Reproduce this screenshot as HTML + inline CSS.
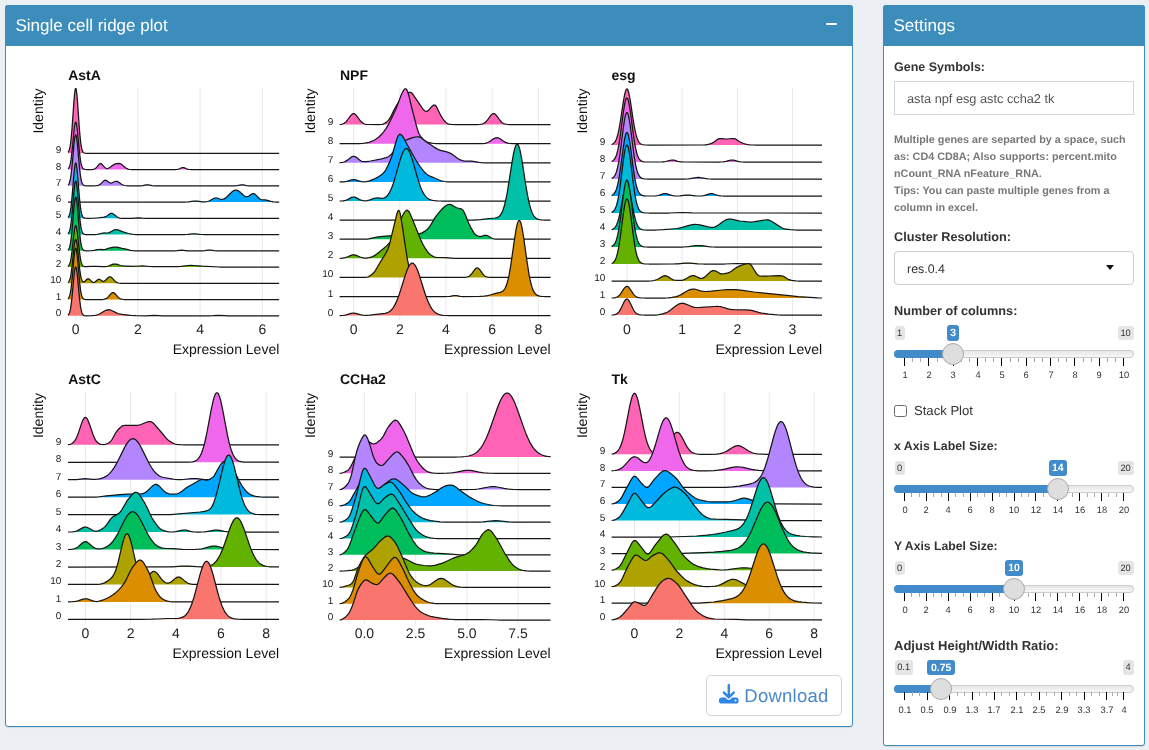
<!DOCTYPE html>
<html lang="en">
<head>
<meta charset="utf-8">
<title>Single cell ridge plot</title>
<style>
html,body{margin:0;padding:0;}
body{width:1149px;height:750px;overflow:hidden;background:#ecf0f5;position:relative;font-family:"Liberation Sans",sans-serif;color:#333;text-rendering:geometricPrecision;}
.abs{position:absolute;}
.box{position:absolute;background:#fff;border:1px solid #3c8dbc;border-radius:3px;box-shadow:0 1px 1px rgba(0,0,0,.1);box-sizing:border-box;}
.hdr{position:absolute;background:#3c8dbc;border-radius:3px 3px 0 0;}
.htitle{position:absolute;color:#fff;font-size:17px;line-height:20px;white-space:nowrap;}
.lbl{position:absolute;font-weight:bold;font-size:12.5px;line-height:16px;color:#333;white-space:nowrap;}
.inp{position:absolute;box-sizing:border-box;background:#fff;border:1px solid #d2d6de;}
.inptxt{position:absolute;font-size:12.75px;line-height:16px;color:#555;white-space:nowrap;}
.help{position:absolute;font-weight:bold;font-size:10.8px;line-height:17.14px;color:#777;white-space:nowrap;}
svg{position:absolute;left:0;top:0;}
svg text{font-family:"Liberation Sans",sans-serif;fill:#111;text-rendering:geometricPrecision;}
.gl{stroke:#e9e9e9;stroke-width:1;}
.rl{fill:none;stroke:#151515;stroke-width:1.25;stroke-linejoin:round;}
.yt{font-size:10px;text-anchor:end;fill:#1a1a1a;}
.xt{font-size:14px;text-anchor:middle;fill:#222;}
.pt{font-size:14px;font-weight:bold;}
.xl{font-size:14px;text-anchor:end;}
.yl{font-size:14px;text-anchor:middle;}
.irs-min,.irs-max,.irs-single{position:absolute;box-sizing:border-box;text-align:center;border-radius:3px;white-space:nowrap;font-family:"Liberation Sans",sans-serif;}
.irs-min,.irs-max{background:#e5e5e5;color:#333;font-size:9.3px;line-height:15.2px;height:14.4px;}
.irs-single{background:#428bca;color:#fff;font-weight:bold;font-size:10.5px;line-height:16.4px;height:15.6px;}
.irs-line{position:absolute;left:894px;width:239.6px;height:8px;box-sizing:border-box;border:1px solid #ccc;border-radius:8px;background:linear-gradient(to bottom,#dedede -50%,#fff 150%);}
.irs-bar{position:absolute;left:894px;height:8px;box-sizing:border-box;background:#428bca;border-radius:8px 0 0 8px;}
.irs-handle{position:absolute;width:22px;height:22px;box-sizing:border-box;border:1px solid #ababab;background:#dedede;border-radius:22px;}
.tk{position:absolute;width:1px;height:8px;background:#000;}
.tks{position:absolute;width:1px;height:4px;background:#aaa;}
.gt{position:absolute;width:30px;text-align:center;font-size:9.3px;line-height:10px;color:#333;white-space:nowrap;}
</style>
</head>
<body>
<!-- left box -->
<div class="box" style="left:5px;top:5px;width:848px;height:722px;"></div>
<div class="hdr" style="left:5px;top:5px;width:848px;height:40.5px;"></div>
<div class="htitle" style="left:15.5px;top:15.5px;">Single cell ridge plot</div>
<div class="abs" style="left:826px;top:23.4px;width:10.8px;height:2px;background:#fff;border-radius:1px;"></div>

<svg width="1149" height="750" viewBox="0 0 1149 750">
<line x1="75.7" y1="88.0" x2="75.7" y2="320.0" class="gl"/>
<line x1="137.9" y1="88.0" x2="137.9" y2="320.0" class="gl"/>
<line x1="200.1" y1="88.0" x2="200.1" y2="320.0" class="gl"/>
<line x1="262.3" y1="88.0" x2="262.3" y2="320.0" class="gl"/>
<path d="M68 152.4 68.5 151.7 69 150.7 69.5 149.1 70 146.9 70.5 143.9 71 139.9 72 128.9 74 100.4 74.5 94.7 75 90.5 75.5 88.5 76 88.7 76.5 91.2 77 95.7 77.5 101.7 79.5 130.2 80.5 140.8 81 144.6 81.5 147.4 82 149.5 82.5 150.9 83 151.9 83.5 152.5 84 152.8 84.5 153 86 153.3 88.5 153.3 279.2 153.3 L279.2 153.3 L68 153.3 Z" fill="#FF63B6"/>
<path d="M68 152.4 68.5 151.7 69 150.7 69.5 149.1 70 146.9 70.5 143.9 71 139.9 72 128.9 74 100.4 74.5 94.7 75 90.5 75.5 88.5 76 88.7 76.5 91.2 77 95.7 77.5 101.7 79.5 130.2 80.5 140.8 81 144.6 81.5 147.4 82 149.5 82.5 150.9 83 151.9 83.5 152.5 84 152.8 84.5 153 86 153.3 88.5 153.3 279.2 153.3" class="rl"/>
<path d="M68 168.9 68.5 168.4 69 167.6 69.5 166.5 70 164.9 70.5 162.7 71 159.8 72 151.7 74 130.9 74.5 126.7 75 123.7 75.5 122.2 76 122.4 76.5 124.2 77 127.5 77.5 131.9 79.5 152.6 80.5 160.4 81 163.2 81.5 165.3 82 166.8 82.5 167.8 83 168.5 83.5 168.9 84.5 169.4 86 169.5 91 169.5 92.5 169.5 94 169.2 95 168.7 96 168 97 166.9 99 164.4 100 163.7 100.5 163.5 101 163.6 101.5 163.9 102 164.3 104.5 167.2 105.5 168 106.5 168.5 107.5 168.5 108.5 168.2 109.5 167.7 113 165.1 114.5 164.2 115.5 163.8 116.5 163.6 118.5 163.4 120 163.6 121.5 164.3 122.5 165.1 125.5 167.7 127 168.7 128 169.1 129 169.3 131 169.5 176 169.5 177.5 169.4 178.5 169.2 179.5 168.8 181.5 167.9 182.5 167.6 183 167.6 183.5 167.6 184.5 167.9 186.5 168.8 187.5 169.2 189 169.4 190.5 169.5 279.2 169.6 L279.2 169.6 L68 169.6 Z" fill="#EF67EB"/>
<path d="M68 168.9 68.5 168.4 69 167.6 69.5 166.5 70 164.9 70.5 162.7 71 159.8 72 151.7 74 130.9 74.5 126.7 75 123.7 75.5 122.2 76 122.4 76.5 124.2 77 127.5 77.5 131.9 79.5 152.6 80.5 160.4 81 163.2 81.5 165.3 82 166.8 82.5 167.8 83 168.5 83.5 168.9 84.5 169.4 86 169.5 91 169.5 92.5 169.5 94 169.2 95 168.7 96 168 97 166.9 99 164.4 100 163.7 100.5 163.5 101 163.6 101.5 163.9 102 164.3 104.5 167.2 105.5 168 106.5 168.5 107.5 168.5 108.5 168.2 109.5 167.7 113 165.1 114.5 164.2 115.5 163.8 116.5 163.6 118.5 163.4 120 163.6 121.5 164.3 122.5 165.1 125.5 167.7 127 168.7 128 169.1 129 169.3 131 169.5 176 169.5 177.5 169.4 178.5 169.2 179.5 168.8 181.5 167.9 182.5 167.6 183 167.6 183.5 167.6 184.5 167.9 186.5 168.8 187.5 169.2 189 169.4 190.5 169.5 279.2 169.6" class="rl"/>
<path d="M68 185.1 68.5 184.6 69 183.7 69.5 182.5 70 180.8 70.5 178.4 71 175.3 72 166.7 74 144.3 74.5 139.8 75 136.6 75.5 134.9 76 135.1 76.5 137.1 77 140.6 77.5 145.4 79.5 167.7 80.5 176 81 179 81.5 181.2 82 182.8 82.5 183.9 83 184.7 83.5 185.1 84.5 185.6 86.5 185.8 94 185.8 96.5 185.7 98 185.4 99.5 184.8 100.5 184.1 103 181.6 104 180.7 105 180.3 105.5 180.2 106.5 180.6 109.5 182.7 110.5 183 111 183.1 112 182.8 115 181.5 116 181.3 117 181.4 118.5 182.1 121.5 184.2 123 185 125 185.5 127.5 185.8 141 185.8 143 185.6 146 184.9 147 184.8 148.5 184.9 152 185.6 155 185.8 234 185.8 237.5 185.6 241 184.9 242 184.8 243.5 184.9 246.5 185.6 249 185.8 279.2 185.8 L279.2 185.8 L68 185.8 Z" fill="#B385FF"/>
<path d="M68 185.1 68.5 184.6 69 183.7 69.5 182.5 70 180.8 70.5 178.4 71 175.3 72 166.7 74 144.3 74.5 139.8 75 136.6 75.5 134.9 76 135.1 76.5 137.1 77 140.6 77.5 145.4 79.5 167.7 80.5 176 81 179 81.5 181.2 82 182.8 82.5 183.9 83 184.7 83.5 185.1 84.5 185.6 86.5 185.8 94 185.8 96.5 185.7 98 185.4 99.5 184.8 100.5 184.1 103 181.6 104 180.7 105 180.3 105.5 180.2 106.5 180.6 109.5 182.7 110.5 183 111 183.1 112 182.8 115 181.5 116 181.3 117 181.4 118.5 182.1 121.5 184.2 123 185 125 185.5 127.5 185.8 141 185.8 143 185.6 146 184.9 147 184.8 148.5 184.9 152 185.6 155 185.8 234 185.8 237.5 185.6 241 184.9 242 184.8 243.5 184.9 246.5 185.6 249 185.8 279.2 185.8" class="rl"/>
<path d="M68 202.1 184 202 188.5 201.9 193.5 201.2 195.5 201.1 197.5 201.2 202 201.8 204 201.9 205.5 201.9 207.5 201.5 209 201 210.5 200.3 213.5 198.5 215 198 216 197.9 217 198 220 199 221.5 199.3 223 199.2 224 198.9 225 198.4 226.5 197.2 231 192.7 232.5 191.4 233.5 190.7 234.5 190.3 235.5 190.1 236 190.1 237 190.2 238.5 190.9 240 192 244 195.7 245 196.3 246 196.7 247 196.7 248 196.5 249 196 251 194.5 252 193.9 253 193.6 253.5 193.6 254 193.7 255 194.2 256 195.1 259 198.3 260 199 261 199.5 262.5 199.9 265 199.9 266.5 200.1 271 201.4 273 201.8 275.5 202 279.2 202 L279.2 202.1 L68 202.1 Z" fill="#00A6FF"/>
<path d="M68 202.1 184 202 188.5 201.9 193.5 201.2 195.5 201.1 197.5 201.2 202 201.8 204 201.9 205.5 201.9 207.5 201.5 209 201 210.5 200.3 213.5 198.5 215 198 216 197.9 217 198 220 199 221.5 199.3 223 199.2 224 198.9 225 198.4 226.5 197.2 231 192.7 232.5 191.4 233.5 190.7 234.5 190.3 235.5 190.1 236 190.1 237 190.2 238.5 190.9 240 192 244 195.7 245 196.3 246 196.7 247 196.7 248 196.5 249 196 251 194.5 252 193.9 253 193.6 253.5 193.6 254 193.7 255 194.2 256 195.1 259 198.3 260 199 261 199.5 262.5 199.9 265 199.9 266.5 200.1 271 201.4 273 201.8 275.5 202 279.2 202" class="rl"/>
<path d="M68 217.5 68.5 216.9 69 216.1 69.5 214.8 70 212.9 70.5 210.3 71 206.9 72 197.5 74 173.2 74.5 168.2 75 164.7 75.5 163 76 163.2 76.5 165.3 77 169.1 77.5 174.3 79.5 198.5 80.5 207.6 81 210.9 81.5 213.3 82 215.1 82.5 216.3 83 217.1 83.5 217.6 84.5 218.1 85.5 218.2 87 218.3 94.5 218.2 97 218 104 217.1 105.5 216.7 106.5 216.2 110 213.7 111 213.3 111.5 213.3 112 213.3 113 213.8 114 214.5 116.5 216.6 118 217.5 119 217.9 120 218.1 122.5 218.3 132 218.3 138 217.8 142.5 218.2 146 218.3 279.2 218.3 L279.2 218.3 L68 218.3 Z" fill="#00BADE"/>
<path d="M68 217.5 68.5 216.9 69 216.1 69.5 214.8 70 212.9 70.5 210.3 71 206.9 72 197.5 74 173.2 74.5 168.2 75 164.7 75.5 163 76 163.2 76.5 165.3 77 169.1 77.5 174.3 79.5 198.5 80.5 207.6 81 210.9 81.5 213.3 82 215.1 82.5 216.3 83 217.1 83.5 217.6 84.5 218.1 85.5 218.2 87 218.3 94.5 218.2 97 218 104 217.1 105.5 216.7 106.5 216.2 110 213.7 111 213.3 111.5 213.3 112 213.3 113 213.8 114 214.5 116.5 216.6 118 217.5 119 217.9 120 218.1 122.5 218.3 132 218.3 138 217.8 142.5 218.2 146 218.3 279.2 218.3" class="rl"/>
<path d="M68 233.8 68.5 233.2 69 232.4 69.5 231.1 70 229.3 70.5 226.8 71 223.5 72 214.4 74 191 74.5 186.2 75 182.8 75.5 181.1 76 181.3 76.5 183.3 77 187.1 77.5 192 79.5 215.5 80.5 224.2 81 227.4 81.5 229.7 82 231.4 82.5 232.6 83 233.4 83.5 233.9 84.5 234.3 85.5 234.5 87 234.5 96 234.5 98.5 234.2 103 233 104 232.9 107 233 108 232.9 109 232.6 110 232.2 113 230.5 114.5 229.8 115.5 229.6 116.5 229.5 118 229.8 123 231.9 128.5 233.5 131.5 234.2 135 234.5 185 234.5 188 234.4 192.5 233.9 194 233.9 195.5 233.9 199.5 234.4 203 234.5 279.2 234.6 L279.2 234.6 L68 234.6 Z" fill="#00C1A7"/>
<path d="M68 233.8 68.5 233.2 69 232.4 69.5 231.1 70 229.3 70.5 226.8 71 223.5 72 214.4 74 191 74.5 186.2 75 182.8 75.5 181.1 76 181.3 76.5 183.3 77 187.1 77.5 192 79.5 215.5 80.5 224.2 81 227.4 81.5 229.7 82 231.4 82.5 232.6 83 233.4 83.5 233.9 84.5 234.3 85.5 234.5 87 234.5 96 234.5 98.5 234.2 103 233 104 232.9 107 233 108 232.9 109 232.6 110 232.2 113 230.5 114.5 229.8 115.5 229.6 116.5 229.5 118 229.8 123 231.9 128.5 233.5 131.5 234.2 135 234.5 185 234.5 188 234.4 192.5 233.9 194 233.9 195.5 233.9 199.5 234.4 203 234.5 279.2 234.6" class="rl"/>
<path d="M68 250 68.5 249.5 69 248.6 69.5 247.4 70 245.5 70.5 243 71 239.7 72 230.6 74 207 74.5 202.3 75 198.9 75.5 197.2 76 197.3 76.5 199.4 77 203.1 77.5 208.1 79.5 231.7 80.5 240.5 81 243.6 81.5 246 82 247.7 82.5 248.8 83 249.6 83.5 250.1 84.5 250.6 86.5 250.8 91.5 250.7 94 250.4 97.5 249.6 98.5 249.5 100 249.4 102.5 249.6 104 249.6 105.5 249.3 109 248.2 111.5 247.6 114 247.2 115.5 247.1 116.5 247.1 118 247.4 122 248.4 126 249.2 130.5 250.3 133 250.6 135.5 250.8 174.5 250.8 177 250.7 180 250.3 181.5 250.2 185.5 250.6 187.5 250.8 202 250.8 205 250.7 208 250.2 209.5 250.1 210.5 250.2 214 250.7 217 250.8 279.2 250.8 L279.2 250.8 L68 250.8 Z" fill="#00BD5C"/>
<path d="M68 250 68.5 249.5 69 248.6 69.5 247.4 70 245.5 70.5 243 71 239.7 72 230.6 74 207 74.5 202.3 75 198.9 75.5 197.2 76 197.3 76.5 199.4 77 203.1 77.5 208.1 79.5 231.7 80.5 240.5 81 243.6 81.5 246 82 247.7 82.5 248.8 83 249.6 83.5 250.1 84.5 250.6 86.5 250.8 91.5 250.7 94 250.4 97.5 249.6 98.5 249.5 100 249.4 102.5 249.6 104 249.6 105.5 249.3 109 248.2 111.5 247.6 114 247.2 115.5 247.1 116.5 247.1 118 247.4 122 248.4 126 249.2 130.5 250.3 133 250.6 135.5 250.8 174.5 250.8 177 250.7 180 250.3 181.5 250.2 185.5 250.6 187.5 250.8 202 250.8 205 250.7 208 250.2 209.5 250.1 210.5 250.2 214 250.7 217 250.8 279.2 250.8" class="rl"/>
<path d="M68 266.5 68.5 266 69 265.4 69.5 264.4 70 263 70.5 261.1 71 258.5 72 251.5 74 233.3 74.5 229.6 75 227 75.5 225.7 76 225.8 76.5 227.4 77 230.3 77.5 234.1 79.5 252.2 80.5 259 81 261.4 81.5 263.2 82 264.5 82.5 265.4 83 266 83.5 266.3 84.5 266.7 86 266.7 91.5 266.3 94.5 266.3 97 266.3 103 266.7 105.5 266.6 107 266.4 108.5 266 113 264.2 114 264 115 264 116.5 264.2 120.5 265.5 123 265.8 132.5 266.3 139.5 266 142 265.9 150 266.5 153.5 266.7 165 266.6 177 266.6 181 266.3 188 265.5 191 265.4 194 265.5 202 266.2 219.5 267 279.2 267.1 L279.2 267.1 L68 267.1 Z" fill="#64B200"/>
<path d="M68 266.5 68.5 266 69 265.4 69.5 264.4 70 263 70.5 261.1 71 258.5 72 251.5 74 233.3 74.5 229.6 75 227 75.5 225.7 76 225.8 76.5 227.4 77 230.3 77.5 234.1 79.5 252.2 80.5 259 81 261.4 81.5 263.2 82 264.5 82.5 265.4 83 266 83.5 266.3 84.5 266.7 86 266.7 91.5 266.3 94.5 266.3 97 266.3 103 266.7 105.5 266.6 107 266.4 108.5 266 113 264.2 114 264 115 264 116.5 264.2 120.5 265.5 123 265.8 132.5 266.3 139.5 266 142 265.9 150 266.5 153.5 266.7 165 266.6 177 266.6 181 266.3 188 265.5 191 265.4 194 265.5 202 266.2 219.5 267 279.2 267.1" class="rl"/>
<path d="M68 282.7 68.5 282.2 69 281.5 69.5 280.5 70 279 70.5 276.9 71 274.2 72 266.8 74 247.5 74.5 243.6 75 240.8 75.5 239.4 76 239.6 76.5 241.3 77 244.3 77.5 248.4 79.5 267.6 80.5 274.8 81 277.3 81.5 279.2 82 280.5 82.5 281.3 83 281.8 83.5 281.9 84 281.9 84.5 281.6 87 279.2 87.5 278.9 88 278.8 88.5 278.8 89 279.1 89.5 279.4 92 281.9 93 282.4 93.5 282.5 94 282.5 95 282.1 98 279.6 98.5 279.4 99 279.3 99.5 279.3 100 279.5 102.5 281.2 103 281.3 103.5 281.4 104 281.3 104.5 281.1 105.5 280.3 107.5 278.2 108.5 277.3 109.5 276.8 110 276.8 110.5 276.9 111.5 277.5 112.5 278.4 115 281.2 116.5 282.3 117.5 282.7 118.5 283 121 283.3 279.2 283.3 L279.2 283.3 L68 283.3 Z" fill="#AEA200"/>
<path d="M68 282.7 68.5 282.2 69 281.5 69.5 280.5 70 279 70.5 276.9 71 274.2 72 266.8 74 247.5 74.5 243.6 75 240.8 75.5 239.4 76 239.6 76.5 241.3 77 244.3 77.5 248.4 79.5 267.6 80.5 274.8 81 277.3 81.5 279.2 82 280.5 82.5 281.3 83 281.8 83.5 281.9 84 281.9 84.5 281.6 87 279.2 87.5 278.9 88 278.8 88.5 278.8 89 279.1 89.5 279.4 92 281.9 93 282.4 93.5 282.5 94 282.5 95 282.1 98 279.6 98.5 279.4 99 279.3 99.5 279.3 100 279.5 102.5 281.2 103 281.3 103.5 281.4 104 281.3 104.5 281.1 105.5 280.3 107.5 278.2 108.5 277.3 109.5 276.8 110 276.8 110.5 276.9 111.5 277.5 112.5 278.4 115 281.2 116.5 282.3 117.5 282.7 118.5 283 121 283.3 279.2 283.3" class="rl"/>
<path d="M68 298.8 68.5 298.3 69 297.5 69.5 296.3 70 294.5 70.5 292.1 71 288.9 72 280.2 74 257.7 74.5 253.1 75 249.8 75.5 248.2 76 248.4 76.5 250.4 77 253.9 77.5 258.7 79.5 281.2 80.5 289.6 81 292.6 81.5 294.9 82 296.5 82.5 297.7 83 298.4 83.5 298.9 84.5 299.3 85.5 299.5 87 299.5 100 299.5 103 299.5 104.5 299.2 106 298.7 107 298.1 108.5 296.6 110.5 294.2 111.5 293.2 112.5 292.6 113 292.6 113.5 292.6 114.5 293.2 115.5 294.2 118 297.1 119.5 298.4 120.5 298.9 121.5 299.2 124 299.5 279.2 299.6 L279.2 299.6 L68 299.6 Z" fill="#DB8E00"/>
<path d="M68 298.8 68.5 298.3 69 297.5 69.5 296.3 70 294.5 70.5 292.1 71 288.9 72 280.2 74 257.7 74.5 253.1 75 249.8 75.5 248.2 76 248.4 76.5 250.4 77 253.9 77.5 258.7 79.5 281.2 80.5 289.6 81 292.6 81.5 294.9 82 296.5 82.5 297.7 83 298.4 83.5 298.9 84.5 299.3 85.5 299.5 87 299.5 100 299.5 103 299.5 104.5 299.2 106 298.7 107 298.1 108.5 296.6 110.5 294.2 111.5 293.2 112.5 292.6 113 292.6 113.5 292.6 114.5 293.2 115.5 294.2 118 297.1 119.5 298.4 120.5 298.9 121.5 299.2 124 299.5 279.2 299.6" class="rl"/>
<path d="M68 315.1 68.5 314.6 69 313.8 69.5 312.7 70 311 70.5 308.7 71 305.7 72 297.4 74 276 74.5 271.6 75 268.5 75.5 266.9 76 267.1 76.5 269 77 272.4 77.5 276.9 79.5 298.4 80.5 306.4 81 309.2 81.5 311.4 82 312.9 82.5 314 83 314.7 83.5 315.2 84.5 315.6 86.5 315.8 91.5 315.7 94.5 315.5 96.5 315.2 98.5 314.5 100 313.8 104.5 311 106 310.3 107.5 309.8 108.5 309.7 109.5 309.8 111 310.2 116.5 312.9 118 313.5 119.5 313.9 122 314.3 130.5 315.3 136 315.7 146 315.8 153.5 315.4 159 315.7 162 315.8 209 315.8 213 315.7 219 315.4 224.5 315.7 227.5 315.8 279.2 315.8 L279.2 315.8 L68 315.8 Z" fill="#F8766D"/>
<path d="M68 315.1 68.5 314.6 69 313.8 69.5 312.7 70 311 70.5 308.7 71 305.7 72 297.4 74 276 74.5 271.6 75 268.5 75.5 266.9 76 267.1 76.5 269 77 272.4 77.5 276.9 79.5 298.4 80.5 306.4 81 309.2 81.5 311.4 82 312.9 82.5 314 83 314.7 83.5 315.2 84.5 315.6 86.5 315.8 91.5 315.7 94.5 315.5 96.5 315.2 98.5 314.5 100 313.8 104.5 311 106 310.3 107.5 309.8 108.5 309.7 109.5 309.8 111 310.2 116.5 312.9 118 313.5 119.5 313.9 122 314.3 130.5 315.3 136 315.7 146 315.8 153.5 315.4 159 315.7 162 315.8 209 315.8 213 315.7 219 315.4 224.5 315.7 227.5 315.8 279.2 315.8" class="rl"/>
<text x="61.3" y="315.8" class="yt">0</text>
<text x="61.3" y="299.6" class="yt">1</text>
<text x="61.3" y="283.3" class="yt">10</text>
<text x="61.3" y="267.1" class="yt">2</text>
<text x="61.3" y="250.8" class="yt">3</text>
<text x="61.3" y="234.5" class="yt">4</text>
<text x="61.3" y="218.3" class="yt">5</text>
<text x="61.3" y="202.0" class="yt">6</text>
<text x="61.3" y="185.8" class="yt">7</text>
<text x="61.3" y="169.5" class="yt">8</text>
<text x="61.3" y="153.3" class="yt">9</text>
<text x="75.7" y="334.0" class="xt">0</text>
<text x="137.9" y="334.0" class="xt">2</text>
<text x="200.1" y="334.0" class="xt">4</text>
<text x="262.3" y="334.0" class="xt">6</text>
<text x="68.2" y="79.6" class="pt">AstA</text>
<text x="279.3" y="353.8" class="xl">Expression Level</text>
<text transform="translate(42.9 111.0) rotate(-90)" class="yl">Identity</text>
<line x1="353.6" y1="88.0" x2="353.6" y2="320.0" class="gl"/>
<line x1="399.8" y1="88.0" x2="399.8" y2="320.0" class="gl"/>
<line x1="446.0" y1="88.0" x2="446.0" y2="320.0" class="gl"/>
<line x1="492.2" y1="88.0" x2="492.2" y2="320.0" class="gl"/>
<line x1="538.4" y1="88.0" x2="538.4" y2="320.0" class="gl"/>
<path d="M339.6 124.5 341.1 124.3 342.6 124 344.1 123.3 345.1 122.6 346.1 121.7 347.1 120.5 350.1 116.3 351.1 115.1 352.1 114.2 352.6 113.9 353.1 113.7 353.6 113.6 354.1 113.7 354.6 113.9 355.1 114.2 356.1 115.1 357.1 116.3 360.1 120.5 361.6 122.1 363.1 123.3 364.6 124 366.1 124.3 368.6 124.5 378.6 124.6 381.6 124.5 382.6 124.3 383.6 123.9 385.1 123.1 386.6 122 388.1 120.6 389.1 119.4 390.6 116.9 394.1 109.7 395.6 107 398.6 102.1 400.6 99.3 401.6 98.2 403.1 96.7 406.1 94 407.1 93.3 408.1 92.7 409.1 92.4 409.6 92.3 410.6 92.4 411.1 92.6 411.6 93 412.6 94 413.6 95.3 422.1 107.9 423.6 109.8 424.6 110.7 425.1 111 426.1 111.3 426.6 111.3 427.6 110.9 428.1 110.6 429.1 109.6 431.6 106.7 432.6 105.7 433.6 105.1 434.1 105 434.6 105 435.1 105.2 435.6 105.7 436.6 107 437.6 108.9 440.6 115.2 441.6 116.8 443.1 119 444.6 121 446.1 122.7 447.1 123.4 447.6 123.7 448.6 124.1 451.6 124.4 455.6 124.6 477.1 124.6 479.6 124.5 481.6 124.2 482.6 123.9 483.6 123.5 484.6 122.9 485.6 122.1 487.1 120.5 490.1 116.3 491.1 115.1 492.1 114.2 492.6 113.8 493.1 113.7 493.6 113.6 494.1 113.7 494.6 113.9 495.1 114.2 496.1 115.1 497.1 116.4 500.1 120.5 501.6 122.2 502.6 123 503.6 123.5 504.6 124 505.6 124.2 507.6 124.5 510.6 124.6 550.6 124.6 L550.6 124.6 L339.6 124.6 Z" fill="#FF63B6"/>
<path d="M339.6 124.5 341.1 124.3 342.6 124 344.1 123.3 345.1 122.6 346.1 121.7 347.1 120.5 350.1 116.3 351.1 115.1 352.1 114.2 352.6 113.9 353.1 113.7 353.6 113.6 354.1 113.7 354.6 113.9 355.1 114.2 356.1 115.1 357.1 116.3 360.1 120.5 361.6 122.1 363.1 123.3 364.6 124 366.1 124.3 368.6 124.5 378.6 124.6 381.6 124.5 382.6 124.3 383.6 123.9 385.1 123.1 386.6 122 388.1 120.6 389.1 119.4 390.6 116.9 394.1 109.7 395.6 107 398.6 102.1 400.6 99.3 401.6 98.2 403.1 96.7 406.1 94 407.1 93.3 408.1 92.7 409.1 92.4 409.6 92.3 410.6 92.4 411.1 92.6 411.6 93 412.6 94 413.6 95.3 422.1 107.9 423.6 109.8 424.6 110.7 425.1 111 426.1 111.3 426.6 111.3 427.6 110.9 428.1 110.6 429.1 109.6 431.6 106.7 432.6 105.7 433.6 105.1 434.1 105 434.6 105 435.1 105.2 435.6 105.7 436.6 107 437.6 108.9 440.6 115.2 441.6 116.8 443.1 119 444.6 121 446.1 122.7 447.1 123.4 447.6 123.7 448.6 124.1 451.6 124.4 455.6 124.6 477.1 124.6 479.6 124.5 481.6 124.2 482.6 123.9 483.6 123.5 484.6 122.9 485.6 122.1 487.1 120.5 490.1 116.3 491.1 115.1 492.1 114.2 492.6 113.8 493.1 113.7 493.6 113.6 494.1 113.7 494.6 113.9 495.1 114.2 496.1 115.1 497.1 116.4 500.1 120.5 501.6 122.2 502.6 123 503.6 123.5 504.6 124 505.6 124.2 507.6 124.5 510.6 124.6 550.6 124.6" class="rl"/>
<path d="M339.6 143.7 359.1 143.7 362.1 143.5 366.1 142.9 369.1 142.3 372.1 141.2 374.1 140.2 376.1 139 378.6 137.2 381.1 134.8 383.6 131.8 386.1 128.4 388.1 125.2 390.6 120.3 395.6 109.7 397.1 106 400.6 96.6 402.1 93 403.1 91 404.1 89.6 404.6 89.1 405.1 88.8 405.6 88.8 406.1 89 406.6 89.5 407.1 90.4 408.1 93 409.1 96.6 411.6 107.1 416.1 124.7 417.6 129.9 418.6 132.7 419.1 133.8 420.1 135.5 421.1 136.9 422.6 138.7 424.1 140.2 425.1 140.9 426.1 141.5 427.1 142 429.1 142.6 431.6 143.2 434.1 143.5 436.1 143.7 476.6 143.7 482.6 143.6 485.1 143.3 486.6 142.9 487.6 142.5 489.6 141.5 493.1 139.1 494.6 138.2 496.1 137.8 497.1 137.7 498.1 137.9 499.6 138.5 503.6 141.2 505.6 142.4 507.6 143.1 510.1 143.5 512.1 143.6 515.6 143.7 550.6 143.7 L550.6 143.7 L339.6 143.7 Z" fill="#EF67EB"/>
<path d="M339.6 143.7 359.1 143.7 362.1 143.5 366.1 142.9 369.1 142.3 372.1 141.2 374.1 140.2 376.1 139 378.6 137.2 381.1 134.8 383.6 131.8 386.1 128.4 388.1 125.2 390.6 120.3 395.6 109.7 397.1 106 400.6 96.6 402.1 93 403.1 91 404.1 89.6 404.6 89.1 405.1 88.8 405.6 88.8 406.1 89 406.6 89.5 407.1 90.4 408.1 93 409.1 96.6 411.6 107.1 416.1 124.7 417.6 129.9 418.6 132.7 419.1 133.8 420.1 135.5 421.1 136.9 422.6 138.7 424.1 140.2 425.1 140.9 426.1 141.5 427.1 142 429.1 142.6 431.6 143.2 434.1 143.5 436.1 143.7 476.6 143.7 482.6 143.6 485.1 143.3 486.6 142.9 487.6 142.5 489.6 141.5 493.1 139.1 494.6 138.2 496.1 137.8 497.1 137.7 498.1 137.9 499.6 138.5 503.6 141.2 505.6 142.4 507.6 143.1 510.1 143.5 512.1 143.6 515.6 143.7 550.6 143.7" class="rl"/>
<path d="M339.6 162.7 342.6 162.4 344.1 162 345.1 161.6 347.1 160.4 351.1 157.2 352.1 156.6 353.1 156.3 354.1 156.3 354.6 156.5 355.6 156.9 356.6 157.5 359.6 160 361.1 161 362.1 161.5 363.6 161.7 366.6 161.6 370.6 161 381.6 158.8 384.1 158.2 386.1 157.6 387.6 157 388.6 156.5 390.1 155.4 391.6 153.9 395.6 148.9 397.1 147.2 401.1 143.6 404.1 141.3 405.1 140.7 406.6 139.9 411.1 138.2 414.6 137.2 416.1 137 417.6 136.9 418.6 136.9 419.6 137.1 421.1 137.8 422.6 138.9 426.1 141.7 427.6 142.8 434.1 147.1 437.1 148.9 438.6 149.6 440.6 150.3 447.6 152.2 450.6 153.3 451.6 153.9 453.1 154.9 457.1 158 458.6 159 459.6 159.6 461.1 160.2 463.6 160.9 465.6 161.1 469.6 161 471.6 161.1 479.1 162.4 481.6 162.7 484.1 162.8 550.6 162.8 L550.6 162.8 L339.6 162.8 Z" fill="#B385FF"/>
<path d="M339.6 162.7 342.6 162.4 344.1 162 345.1 161.6 347.1 160.4 351.1 157.2 352.1 156.6 353.1 156.3 354.1 156.3 354.6 156.5 355.6 156.9 356.6 157.5 359.6 160 361.1 161 362.1 161.5 363.6 161.7 366.6 161.6 370.6 161 381.6 158.8 384.1 158.2 386.1 157.6 387.6 157 388.6 156.5 390.1 155.4 391.6 153.9 395.6 148.9 397.1 147.2 401.1 143.6 404.1 141.3 405.1 140.7 406.6 139.9 411.1 138.2 414.6 137.2 416.1 137 417.6 136.9 418.6 136.9 419.6 137.1 421.1 137.8 422.6 138.9 426.1 141.7 427.6 142.8 434.1 147.1 437.1 148.9 438.6 149.6 440.6 150.3 447.6 152.2 450.6 153.3 451.6 153.9 453.1 154.9 457.1 158 458.6 159 459.6 159.6 461.1 160.2 463.6 160.9 465.6 161.1 469.6 161 471.6 161.1 479.1 162.4 481.6 162.7 484.1 162.8 550.6 162.8" class="rl"/>
<path d="M339.6 181.9 343.1 181.8 345.6 181.6 347.6 181.1 351.6 179.9 353.6 179.7 355.6 179.9 359.6 181.1 361.6 181.6 364.1 181.8 366.1 181.7 367.6 181.3 369.6 180.8 372.1 179.8 374.6 178.8 378.1 177.1 379.6 176.1 381.1 175.1 383.1 173.3 384.6 171.6 386.1 169.3 388.1 165.3 390.1 160.8 391.6 156.9 393.1 152 395.6 143 397.1 138.4 398.1 136.1 398.6 135.3 399.1 134.7 399.6 134.4 400.1 134.3 400.6 134.4 401.6 135.2 402.1 135.7 403.1 137.1 404.1 138.8 407.1 144.5 416.1 160.5 417.6 162.9 420.1 166.5 422.1 169.2 424.1 171.7 426.1 173.7 427.1 174.5 428.6 175.5 430.6 176.4 434.6 178 439.1 180 441.1 180.8 442.6 181.2 444.6 181.5 447.6 181.8 450.6 181.9 550.6 181.9 L550.6 181.9 L339.6 181.9 Z" fill="#00A6FF"/>
<path d="M339.6 181.9 343.1 181.8 345.6 181.6 347.6 181.1 351.6 179.9 353.6 179.7 355.6 179.9 359.6 181.1 361.6 181.6 364.1 181.8 366.1 181.7 367.6 181.3 369.6 180.8 372.1 179.8 374.6 178.8 378.1 177.1 379.6 176.1 381.1 175.1 383.1 173.3 384.6 171.6 386.1 169.3 388.1 165.3 390.1 160.8 391.6 156.9 393.1 152 395.6 143 397.1 138.4 398.1 136.1 398.6 135.3 399.1 134.7 399.6 134.4 400.1 134.3 400.6 134.4 401.6 135.2 402.1 135.7 403.1 137.1 404.1 138.8 407.1 144.5 416.1 160.5 417.6 162.9 420.1 166.5 422.1 169.2 424.1 171.7 426.1 173.7 427.1 174.5 428.6 175.5 430.6 176.4 434.6 178 439.1 180 441.1 180.8 442.6 181.2 444.6 181.5 447.6 181.8 450.6 181.9 550.6 181.9" class="rl"/>
<path d="M339.6 201 343.1 200.8 345.6 200.4 347.6 199.6 351.6 197.4 353.1 197 354.1 197 355.6 197.4 359.6 199.6 361.1 200.2 363.1 200.7 365.1 200.8 367.1 200.6 369.1 200.2 370.6 199.7 374.1 198.4 375.6 198 377.6 197.8 381.6 198.3 383.1 198.2 384.6 197.8 386.1 196.9 387.6 195.3 389.1 193.2 390.6 190.3 391.6 188 393.1 184 394.6 179.3 399.6 161.7 401.6 155.4 403.1 151.8 404.1 150.1 405.1 149 405.6 148.7 406.1 148.5 406.6 148.5 407.1 148.7 407.6 149.1 408.1 149.6 409.1 151.2 410.6 154.5 412.6 160.5 417.1 176.5 418.6 181.4 420.6 187.2 422.1 190.7 423.1 192.6 424.1 194.3 425.1 195.7 426.1 196.9 427.1 197.9 428.1 198.6 429.1 199.2 430.6 199.9 432.6 200.4 434.6 200.7 437.1 200.9 441.1 201 550.6 201 L550.6 201 L339.6 201 Z" fill="#00BADE"/>
<path d="M339.6 201 343.1 200.8 345.6 200.4 347.6 199.6 351.6 197.4 353.1 197 354.1 197 355.6 197.4 359.6 199.6 361.1 200.2 363.1 200.7 365.1 200.8 367.1 200.6 369.1 200.2 370.6 199.7 374.1 198.4 375.6 198 377.6 197.8 381.6 198.3 383.1 198.2 384.6 197.8 386.1 196.9 387.6 195.3 389.1 193.2 390.6 190.3 391.6 188 393.1 184 394.6 179.3 399.6 161.7 401.6 155.4 403.1 151.8 404.1 150.1 405.1 149 405.6 148.7 406.1 148.5 406.6 148.5 407.1 148.7 407.6 149.1 408.1 149.6 409.1 151.2 410.6 154.5 412.6 160.5 417.1 176.5 418.6 181.4 420.6 187.2 422.1 190.7 423.1 192.6 424.1 194.3 425.1 195.7 426.1 196.9 427.1 197.9 428.1 198.6 429.1 199.2 430.6 199.9 432.6 200.4 434.6 200.7 437.1 200.9 441.1 201 550.6 201" class="rl"/>
<path d="M339.6 220.1 473.1 220.1 477.1 219.9 480.6 219.7 489.1 218.5 495.1 218 496.6 217.7 497.6 217.3 498.6 216.8 499.6 216 500.6 214.8 501.6 213.2 502.6 211.1 503.1 209.8 504.6 205 506.1 198.5 507.6 190.5 512.1 161.8 513.6 153.4 514.6 149.1 515.6 146 516.1 145 516.6 144.3 517.1 144.1 517.6 144.3 518.1 144.8 518.6 145.7 519.6 148.7 520.6 153 522.1 161.2 525.6 184 527.6 195.7 528.6 200.7 529.6 205 530.6 208.5 532.1 212.7 533.1 214.7 533.6 215.6 534.6 216.9 536.1 218.3 537.6 219.1 539.6 219.7 541.6 219.9 544.6 220.1 550.6 220.1 L550.6 220.1 L339.6 220.1 Z" fill="#00C1A7"/>
<path d="M339.6 220.1 473.1 220.1 477.1 219.9 480.6 219.7 489.1 218.5 495.1 218 496.6 217.7 497.6 217.3 498.6 216.8 499.6 216 500.6 214.8 501.6 213.2 502.6 211.1 503.1 209.8 504.6 205 506.1 198.5 507.6 190.5 512.1 161.8 513.6 153.4 514.6 149.1 515.6 146 516.1 145 516.6 144.3 517.1 144.1 517.6 144.3 518.1 144.8 518.6 145.7 519.6 148.7 520.6 153 522.1 161.2 525.6 184 527.6 195.7 528.6 200.7 529.6 205 530.6 208.5 532.1 212.7 533.1 214.7 533.6 215.6 534.6 216.9 536.1 218.3 537.6 219.1 539.6 219.7 541.6 219.9 544.6 220.1 550.6 220.1" class="rl"/>
<path d="M339.6 239.2 367.1 239.1 368.6 238.9 376.6 237.2 380.1 236.6 383.1 236.3 392.1 235.6 414.1 234.6 418.1 234.2 420.1 233.7 422.1 232.9 424.6 231.4 427.1 229.5 428.6 228 429.6 226.7 430.6 225.2 434.1 219.1 436.1 216.1 440.6 210.7 443.1 208 445.1 206.2 446.6 205.2 448.1 204.5 449.6 204.3 450.6 204.5 451.6 204.9 454.6 206.7 456.1 207.5 457.6 208 461.1 208.9 462.1 209.4 462.6 209.9 463.6 211.2 464.6 213.1 468.6 223 470.6 227.1 472.6 230.7 474.1 233.1 475.1 234.2 476.6 235.4 478.1 236 479.6 236.4 480.6 236.4 482.1 236.1 484.6 235.4 485.6 235.3 486.6 235.4 488.1 236 491.1 237.8 492.6 238.5 494.1 238.9 496.1 239.1 550.6 239.2 L550.6 239.2 L339.6 239.2 Z" fill="#00BD5C"/>
<path d="M339.6 239.2 367.1 239.1 368.6 238.9 376.6 237.2 380.1 236.6 383.1 236.3 392.1 235.6 414.1 234.6 418.1 234.2 420.1 233.7 422.1 232.9 424.6 231.4 427.1 229.5 428.6 228 429.6 226.7 430.6 225.2 434.1 219.1 436.1 216.1 440.6 210.7 443.1 208 445.1 206.2 446.6 205.2 448.1 204.5 449.6 204.3 450.6 204.5 451.6 204.9 454.6 206.7 456.1 207.5 457.6 208 461.1 208.9 462.1 209.4 462.6 209.9 463.6 211.2 464.6 213.1 468.6 223 470.6 227.1 472.6 230.7 474.1 233.1 475.1 234.2 476.6 235.4 478.1 236 479.6 236.4 480.6 236.4 482.1 236.1 484.6 235.4 485.6 235.3 486.6 235.4 488.1 236 491.1 237.8 492.6 238.5 494.1 238.9 496.1 239.1 550.6 239.2" class="rl"/>
<path d="M339.6 258.3 342.6 258.1 345.1 257.7 347.1 257 351.1 255.3 352.6 254.9 353.6 254.8 354.6 254.9 356.1 255.3 360.1 257 362.1 257.7 364.6 258.1 366.6 258.1 369.1 257.7 372.1 256.8 373.6 256.1 375.6 254.9 383.6 248.5 386.6 245.9 390.1 242.3 391.6 240.5 393.1 238.5 395.1 235.4 396.6 232.4 398.1 228.3 400.6 220.4 401.6 217.7 402.6 215.5 404.1 212.9 405.1 211.5 406.1 210.6 406.6 210.3 407.1 210.2 407.6 210.3 408.1 210.7 408.6 211.2 409.1 211.9 410.1 213.8 415.6 226.9 420.6 239.4 422.6 243.7 424.6 247.3 427.1 251.2 428.1 252.5 429.1 253.6 430.1 254.4 431.6 255.5 433.1 256.4 434.6 257 435.6 257.3 436.6 257.4 445.6 257.6 454.1 258.3 550.6 258.3 L550.6 258.3 L339.6 258.3 Z" fill="#64B200"/>
<path d="M339.6 258.3 342.6 258.1 345.1 257.7 347.1 257 351.1 255.3 352.6 254.9 353.6 254.8 354.6 254.9 356.1 255.3 360.1 257 362.1 257.7 364.6 258.1 366.6 258.1 369.1 257.7 372.1 256.8 373.6 256.1 375.6 254.9 383.6 248.5 386.6 245.9 390.1 242.3 391.6 240.5 393.1 238.5 395.1 235.4 396.6 232.4 398.1 228.3 400.6 220.4 401.6 217.7 402.6 215.5 404.1 212.9 405.1 211.5 406.1 210.6 406.6 210.3 407.1 210.2 407.6 210.3 408.1 210.7 408.6 211.2 409.1 211.9 410.1 213.8 415.6 226.9 420.6 239.4 422.6 243.7 424.6 247.3 427.1 251.2 428.1 252.5 429.1 253.6 430.1 254.4 431.6 255.5 433.1 256.4 434.6 257 435.6 257.3 436.6 257.4 445.6 257.6 454.1 258.3 550.6 258.3" class="rl"/>
<path d="M339.6 277.4 364.1 277.4 366.1 277.3 367.6 277 369.6 276.1 371.1 275.1 372.1 274.3 373.6 272.8 374.6 271.6 376.1 269.3 381.1 260.8 385.1 254.5 386.6 251.8 388.1 248.5 389.1 245.5 390.1 241.9 396.6 214.8 397.6 211.7 398.1 210.7 398.6 210.4 399.1 210.7 399.6 211.6 400.1 213.3 400.6 215.6 402.1 224.7 406.6 254.6 407.6 260.5 408.6 265.2 409.6 268.7 411.1 272.6 412.1 274.5 412.6 275.2 413.1 275.7 414.1 276.4 415.1 276.7 417.1 277.1 420.6 277.4 461.6 277.4 464.6 277.3 466.1 277.2 467.1 277 468.1 276.7 469.1 276.3 470.1 275.5 471.6 273.9 475.1 269.1 476.1 268.3 476.6 268 477.1 267.9 477.6 268 478.1 268.2 479.1 269 480.1 270.2 482.6 273.7 484.1 275.4 485.1 276.2 486.1 276.7 487.1 277 488.1 277.2 490.1 277.4 493.1 277.4 550.6 277.4 L550.6 277.4 L339.6 277.4 Z" fill="#AEA200"/>
<path d="M339.6 277.4 364.1 277.4 366.1 277.3 367.6 277 369.6 276.1 371.1 275.1 372.1 274.3 373.6 272.8 374.6 271.6 376.1 269.3 381.1 260.8 385.1 254.5 386.6 251.8 388.1 248.5 389.1 245.5 390.1 241.9 396.6 214.8 397.6 211.7 398.1 210.7 398.6 210.4 399.1 210.7 399.6 211.6 400.1 213.3 400.6 215.6 402.1 224.7 406.6 254.6 407.6 260.5 408.6 265.2 409.6 268.7 411.1 272.6 412.1 274.5 412.6 275.2 413.1 275.7 414.1 276.4 415.1 276.7 417.1 277.1 420.6 277.4 461.6 277.4 464.6 277.3 466.1 277.2 467.1 277 468.1 276.7 469.1 276.3 470.1 275.5 471.6 273.9 475.1 269.1 476.1 268.3 476.6 268 477.1 267.9 477.6 268 478.1 268.2 479.1 269 480.1 270.2 482.6 273.7 484.1 275.4 485.1 276.2 486.1 276.7 487.1 277 488.1 277.2 490.1 277.4 493.1 277.4 550.6 277.4" class="rl"/>
<path d="M339.6 296.5 446.6 296.5 450.1 296.3 453.6 295.7 455.1 295.5 456.6 295.6 460.1 296.3 462.1 296.5 479.6 296.4 484.1 296.2 487.6 295.6 490.1 295 495.6 293.4 500.1 292.3 501.6 291.8 502.6 291.2 503.6 290.4 504.6 289.1 505.1 288.2 506.1 286.1 506.6 284.8 508.1 279.5 509.1 274.9 510.6 266.4 514.6 238.5 516.1 229.3 517.1 224.7 517.6 222.9 518.1 221.6 518.6 220.8 519.1 220.5 519.6 220.6 520.1 221.2 520.6 222.3 521.1 223.8 522.1 228.1 523.6 237.1 527.1 262.2 529.1 274.8 530.1 279.9 531.1 284.1 532.1 287.5 533.1 290.1 534.1 292.1 535.1 293.5 535.6 294.1 536.6 294.9 538.1 295.7 539.6 296.1 541.6 296.4 544.6 296.5 550.6 296.5 L550.6 296.5 L339.6 296.5 Z" fill="#DB8E00"/>
<path d="M339.6 296.5 446.6 296.5 450.1 296.3 453.6 295.7 455.1 295.5 456.6 295.6 460.1 296.3 462.1 296.5 479.6 296.4 484.1 296.2 487.6 295.6 490.1 295 495.6 293.4 500.1 292.3 501.6 291.8 502.6 291.2 503.6 290.4 504.6 289.1 505.1 288.2 506.1 286.1 506.6 284.8 508.1 279.5 509.1 274.9 510.6 266.4 514.6 238.5 516.1 229.3 517.1 224.7 517.6 222.9 518.1 221.6 518.6 220.8 519.1 220.5 519.6 220.6 520.1 221.2 520.6 222.3 521.1 223.8 522.1 228.1 523.6 237.1 527.1 262.2 529.1 274.8 530.1 279.9 531.1 284.1 532.1 287.5 533.1 290.1 534.1 292.1 535.1 293.5 535.6 294.1 536.6 294.9 538.1 295.7 539.6 296.1 541.6 296.4 544.6 296.5 550.6 296.5" class="rl"/>
<path d="M339.6 315.6 342.6 315.5 345.1 315.1 347.1 314.7 351.1 313.4 352.6 313.2 353.6 313.1 355.6 313.3 360.1 314.7 362.6 315.2 365.6 315.4 369.6 315.2 385.1 313.3 386.6 312.9 387.6 312.5 388.6 312.1 389.6 311.4 390.6 310.7 391.6 309.7 393.1 307.8 394.6 305.4 396.1 302.4 397.6 298.8 399.1 294.7 400.6 290.1 405.1 275.7 407.1 270.1 408.6 266.7 409.6 265.1 410.6 263.9 411.1 263.5 411.6 263.2 412.1 263.1 412.6 263.1 413.1 263.3 413.6 263.6 414.6 264.6 415.6 266.1 417.1 269.2 418.1 271.8 419.6 276.1 423.6 289 425.6 295.2 427.6 300.5 429.6 304.9 430.6 306.8 431.6 308.4 432.6 309.8 433.6 310.9 434.6 311.9 436.1 313 437.1 313.6 438.6 314.3 440.6 314.9 443.1 315.3 446.1 315.5 449.6 315.6 550.6 315.6 L550.6 315.6 L339.6 315.6 Z" fill="#F8766D"/>
<path d="M339.6 315.6 342.6 315.5 345.1 315.1 347.1 314.7 351.1 313.4 352.6 313.2 353.6 313.1 355.6 313.3 360.1 314.7 362.6 315.2 365.6 315.4 369.6 315.2 385.1 313.3 386.6 312.9 387.6 312.5 388.6 312.1 389.6 311.4 390.6 310.7 391.6 309.7 393.1 307.8 394.6 305.4 396.1 302.4 397.6 298.8 399.1 294.7 400.6 290.1 405.1 275.7 407.1 270.1 408.6 266.7 409.6 265.1 410.6 263.9 411.1 263.5 411.6 263.2 412.1 263.1 412.6 263.1 413.1 263.3 413.6 263.6 414.6 264.6 415.6 266.1 417.1 269.2 418.1 271.8 419.6 276.1 423.6 289 425.6 295.2 427.6 300.5 429.6 304.9 430.6 306.8 431.6 308.4 432.6 309.8 433.6 310.9 434.6 311.9 436.1 313 437.1 313.6 438.6 314.3 440.6 314.9 443.1 315.3 446.1 315.5 449.6 315.6 550.6 315.6" class="rl"/>
<text x="333.3" y="315.6" class="yt">0</text>
<text x="333.3" y="296.5" class="yt">1</text>
<text x="333.3" y="277.4" class="yt">10</text>
<text x="333.3" y="258.3" class="yt">2</text>
<text x="333.3" y="239.2" class="yt">3</text>
<text x="333.3" y="220.1" class="yt">4</text>
<text x="333.3" y="201.0" class="yt">5</text>
<text x="333.3" y="181.9" class="yt">6</text>
<text x="333.3" y="162.8" class="yt">7</text>
<text x="333.3" y="143.7" class="yt">8</text>
<text x="333.3" y="124.6" class="yt">9</text>
<text x="353.6" y="334.0" class="xt">0</text>
<text x="399.8" y="334.0" class="xt">2</text>
<text x="446.0" y="334.0" class="xt">4</text>
<text x="492.2" y="334.0" class="xt">6</text>
<text x="538.4" y="334.0" class="xt">8</text>
<text x="340.0" y="79.6" class="pt">NPF</text>
<text x="550.7" y="353.8" class="xl">Expression Level</text>
<text transform="translate(314.7 111.0) rotate(-90)" class="yl">Identity</text>
<line x1="626.9" y1="88.0" x2="626.9" y2="320.0" class="gl"/>
<line x1="682.1" y1="88.0" x2="682.1" y2="320.0" class="gl"/>
<line x1="737.3" y1="88.0" x2="737.3" y2="320.0" class="gl"/>
<line x1="792.5" y1="88.0" x2="792.5" y2="320.0" class="gl"/>
<path d="M611.6 144.5 612.6 144.1 613.6 143.4 614.6 142.4 615.1 141.7 616.1 139.7 616.6 138.5 617.6 135.3 618.6 131.1 619.6 126 620.6 119.9 623.1 103.2 624.6 94.7 625.6 90.9 626.1 89.7 626.6 89.1 627.1 89 627.6 89.6 628.1 90.6 628.6 92.2 629.6 96.7 630.6 102.6 633.1 119.3 634.1 125.4 635.1 130.7 636.1 134.9 637.1 138.2 637.6 139.5 638.6 141.5 639.1 142.3 640.1 143.4 641.1 144.1 642.1 144.5 644.1 144.9 647.6 145 704.6 144.9 706.1 144.8 708.1 144.4 710.1 143.8 712.1 143.1 713.1 142.6 714.1 142 717.6 139.3 719.1 138.7 720.6 138.6 724.6 138.9 726.6 139 733.1 138.5 734.6 138.6 735.6 139 739.6 141.7 741.1 142.4 743.6 143.5 746.6 144.4 748.1 144.6 750.1 144.8 754.6 145 822 145 L822 145 L611.6 145 Z" fill="#FF63B6"/>
<path d="M611.6 144.5 612.6 144.1 613.6 143.4 614.6 142.4 615.1 141.7 616.1 139.7 616.6 138.5 617.6 135.3 618.6 131.1 619.6 126 620.6 119.9 623.1 103.2 624.6 94.7 625.6 90.9 626.1 89.7 626.6 89.1 627.1 89 627.6 89.6 628.1 90.6 628.6 92.2 629.6 96.7 630.6 102.6 633.1 119.3 634.1 125.4 635.1 130.7 636.1 134.9 637.1 138.2 637.6 139.5 638.6 141.5 639.1 142.3 640.1 143.4 641.1 144.1 642.1 144.5 644.1 144.9 647.6 145 704.6 144.9 706.1 144.8 708.1 144.4 710.1 143.8 712.1 143.1 713.1 142.6 714.1 142 717.6 139.3 719.1 138.7 720.6 138.6 724.6 138.9 726.6 139 733.1 138.5 734.6 138.6 735.6 139 739.6 141.7 741.1 142.4 743.6 143.5 746.6 144.4 748.1 144.6 750.1 144.8 754.6 145 822 145" class="rl"/>
<path d="M611.6 161.4 612.6 161 613.6 160.2 614.6 159 615.1 158.2 616.1 156 616.6 154.5 617.6 150.9 618.6 146.1 619.6 140.3 620.6 133.4 623.1 114.2 624.6 104.5 625.6 100.2 626.1 98.8 626.6 98.1 627.1 98.1 627.6 98.6 628.1 99.8 628.6 101.6 629.6 106.8 630.6 113.5 633.1 132.6 634.1 139.6 635.1 145.6 636.1 150.5 637.1 154.2 637.6 155.7 638.6 158 639.1 158.9 640.1 160.1 641.1 160.9 642.1 161.4 643.6 161.8 646.1 162 662.1 161.9 664.1 161.8 665.6 161.5 670.1 160.3 672.1 160 674.1 160.2 677.6 161.3 679.1 161.6 680.6 161.8 682.6 161.9 720.1 162 722.6 161.9 724.6 161.6 726.1 161.3 729.6 160.3 731.6 160 732.6 160 733.6 160.2 737.1 161.2 739.1 161.7 741.1 161.9 743.1 162 822 162 L822 162 L611.6 162 Z" fill="#EF67EB"/>
<path d="M611.6 161.4 612.6 161 613.6 160.2 614.6 159 615.1 158.2 616.1 156 616.6 154.5 617.6 150.9 618.6 146.1 619.6 140.3 620.6 133.4 623.1 114.2 624.6 104.5 625.6 100.2 626.1 98.8 626.6 98.1 627.1 98.1 627.6 98.6 628.1 99.8 628.6 101.6 629.6 106.8 630.6 113.5 633.1 132.6 634.1 139.6 635.1 145.6 636.1 150.5 637.1 154.2 637.6 155.7 638.6 158 639.1 158.9 640.1 160.1 641.1 160.9 642.1 161.4 643.6 161.8 646.1 162 662.1 161.9 664.1 161.8 665.6 161.5 670.1 160.3 672.1 160 674.1 160.2 677.6 161.3 679.1 161.6 680.6 161.8 682.6 161.9 720.1 162 722.6 161.9 724.6 161.6 726.1 161.3 729.6 160.3 731.6 160 732.6 160 733.6 160.2 737.1 161.2 739.1 161.7 741.1 161.9 743.1 162 822 162" class="rl"/>
<path d="M611.6 178.4 612.6 177.9 613.6 177.2 614.6 175.9 615.1 175 616.1 172.7 616.6 171.2 617.6 167.5 618.6 162.5 619.6 156.4 620.6 149.2 623.1 129.4 624.6 119.3 625.6 114.7 626.1 113.4 626.6 112.6 627.1 112.6 627.6 113.2 628.1 114.4 628.6 116.3 629.6 121.6 630.6 128.6 633.1 148.5 634.1 155.7 635.1 162 636.1 167 637.1 170.9 637.6 172.5 638.6 174.8 639.1 175.7 640.1 177.1 641.1 177.9 642.1 178.4 643.1 178.7 644.1 178.8 647.1 179 685.6 179 688.1 178.9 690.1 178.7 696.1 177.6 698.1 177.4 700.1 177.6 706.1 178.7 708.1 178.9 711.1 179 822 179 L822 179 L611.6 179 Z" fill="#B385FF"/>
<path d="M611.6 178.4 612.6 177.9 613.6 177.2 614.6 175.9 615.1 175 616.1 172.7 616.6 171.2 617.6 167.5 618.6 162.5 619.6 156.4 620.6 149.2 623.1 129.4 624.6 119.3 625.6 114.7 626.1 113.4 626.6 112.6 627.1 112.6 627.6 113.2 628.1 114.4 628.6 116.3 629.6 121.6 630.6 128.6 633.1 148.5 634.1 155.7 635.1 162 636.1 167 637.1 170.9 637.6 172.5 638.6 174.8 639.1 175.7 640.1 177.1 641.1 177.9 642.1 178.4 643.1 178.7 644.1 178.8 647.1 179 685.6 179 688.1 178.9 690.1 178.7 696.1 177.6 698.1 177.4 700.1 177.6 706.1 178.7 708.1 178.9 711.1 179 822 179" class="rl"/>
<path d="M611.6 195.4 612.6 195 613.6 194.2 614.6 193 615.1 192.2 616.1 190 616.6 188.6 617.6 185 618.6 180.3 619.6 174.4 620.6 167.6 623.1 148.6 624.6 139 625.6 134.6 626.1 133.3 626.6 132.6 627.1 132.6 627.6 133.1 628.1 134.3 628.6 136.1 629.6 141.2 630.6 147.9 633.1 166.9 634.1 173.8 635.1 179.7 636.1 184.6 637.1 188.3 637.6 189.8 638.6 192 639.1 192.9 640.1 194.1 641.1 194.9 642.1 195.4 643.6 195.8 645.6 195.9 652.1 196 655.6 195.9 658.1 195.5 659.6 195.1 663.1 193.9 664.1 193.7 665.1 193.6 666.1 193.7 667.1 193.9 671.6 195.4 673.1 195.7 674.6 195.9 677.1 196 680.1 195.8 685.6 195.1 687.6 195 689.6 195.1 695.1 195.8 700.1 196 702.1 195.9 704.1 195.6 705.6 195.2 709.6 193.8 710.6 193.6 711.6 193.6 712.6 193.7 713.6 194 716.6 195 718.6 195.6 720.6 195.9 723.1 196 822 196 L822 196 L611.6 196 Z" fill="#00A6FF"/>
<path d="M611.6 195.4 612.6 195 613.6 194.2 614.6 193 615.1 192.2 616.1 190 616.6 188.6 617.6 185 618.6 180.3 619.6 174.4 620.6 167.6 623.1 148.6 624.6 139 625.6 134.6 626.1 133.3 626.6 132.6 627.1 132.6 627.6 133.1 628.1 134.3 628.6 136.1 629.6 141.2 630.6 147.9 633.1 166.9 634.1 173.8 635.1 179.7 636.1 184.6 637.1 188.3 637.6 189.8 638.6 192 639.1 192.9 640.1 194.1 641.1 194.9 642.1 195.4 643.6 195.8 645.6 195.9 652.1 196 655.6 195.9 658.1 195.5 659.6 195.1 663.1 193.9 664.1 193.7 665.1 193.6 666.1 193.7 667.1 193.9 671.6 195.4 673.1 195.7 674.6 195.9 677.1 196 680.1 195.8 685.6 195.1 687.6 195 689.6 195.1 695.1 195.8 700.1 196 702.1 195.9 704.1 195.6 705.6 195.2 709.6 193.8 710.6 193.6 711.6 193.6 712.6 193.7 713.6 194 716.6 195 718.6 195.6 720.6 195.9 723.1 196 822 196" class="rl"/>
<path d="M611.6 212.4 612.6 211.9 613.6 211.1 614.6 209.8 615.1 208.9 616.1 206.6 616.6 205.1 617.6 201.2 618.6 196.2 619.6 189.9 620.6 182.6 623.1 162.2 624.6 151.9 625.6 147.3 626.1 145.9 626.6 145.1 627.1 145.1 627.6 145.7 628.1 147 628.6 148.9 629.6 154.3 630.6 161.5 633.1 181.8 634.1 189.2 635.1 195.6 636.1 200.8 637.1 204.7 637.6 206.3 638.6 208.8 639.1 209.7 640.1 211 641.1 211.9 642.1 212.4 643.1 212.7 644.6 212.9 649.1 213 669.6 213 682.1 212.5 692.1 212.9 698.1 213 822 213 L822 213 L611.6 213 Z" fill="#00BADE"/>
<path d="M611.6 212.4 612.6 211.9 613.6 211.1 614.6 209.8 615.1 208.9 616.1 206.6 616.6 205.1 617.6 201.2 618.6 196.2 619.6 189.9 620.6 182.6 623.1 162.2 624.6 151.9 625.6 147.3 626.1 145.9 626.6 145.1 627.1 145.1 627.6 145.7 628.1 147 628.6 148.9 629.6 154.3 630.6 161.5 633.1 181.8 634.1 189.2 635.1 195.6 636.1 200.8 637.1 204.7 637.6 206.3 638.6 208.8 639.1 209.7 640.1 211 641.1 211.9 642.1 212.4 643.1 212.7 644.6 212.9 649.1 213 669.6 213 682.1 212.5 692.1 212.9 698.1 213 822 213" class="rl"/>
<path d="M611.6 229.6 612.6 229.3 613.6 228.8 614.6 227.9 615.1 227.3 616.1 225.8 616.6 224.8 617.6 222.2 618.6 218.9 619.6 214.7 620.6 209.9 623.1 196.4 624.6 189.6 625.6 186.5 626.1 185.6 626.6 185.1 627.1 185 627.6 185.4 628.1 186.3 628.6 187.6 629.6 191.2 630.6 195.9 633.1 209.3 634.1 214.3 635.1 218.5 636.1 221.9 637.1 224.5 637.6 225.6 638.6 227.2 639.1 227.8 640.1 228.7 641.1 229.2 642.1 229.6 643.6 229.8 645.6 230 656.6 230 663.6 229.7 671.6 229 676.6 228.5 679.1 228.1 682.1 227.4 690.1 225.2 692.6 224.7 695.1 224.4 697.1 224.5 699.6 224.8 702.1 225.4 707.1 226.7 709.6 227.2 711.6 227.4 713.1 227.4 714.1 227.2 715.1 226.9 717.1 225.8 719.1 224.5 723.1 221.5 725.6 220 726.6 219.6 727.6 219.3 728.6 219.1 729.6 219.1 731.1 219.2 732.6 219.4 737.6 220.6 740.1 221 746.1 221.7 750.1 222 752.1 222 754.6 221.7 764.6 220 766.6 219.9 768.1 219.9 769.6 220.3 771.1 221 777.1 224.7 781.6 227.7 783.1 228.4 784.6 228.8 790.1 229.6 795.6 230 822 230 L822 230 L611.6 230 Z" fill="#00C1A7"/>
<path d="M611.6 229.6 612.6 229.3 613.6 228.8 614.6 227.9 615.1 227.3 616.1 225.8 616.6 224.8 617.6 222.2 618.6 218.9 619.6 214.7 620.6 209.9 623.1 196.4 624.6 189.6 625.6 186.5 626.1 185.6 626.6 185.1 627.1 185 627.6 185.4 628.1 186.3 628.6 187.6 629.6 191.2 630.6 195.9 633.1 209.3 634.1 214.3 635.1 218.5 636.1 221.9 637.1 224.5 637.6 225.6 638.6 227.2 639.1 227.8 640.1 228.7 641.1 229.2 642.1 229.6 643.6 229.8 645.6 230 656.6 230 663.6 229.7 671.6 229 676.6 228.5 679.1 228.1 682.1 227.4 690.1 225.2 692.6 224.7 695.1 224.4 697.1 224.5 699.6 224.8 702.1 225.4 707.1 226.7 709.6 227.2 711.6 227.4 713.1 227.4 714.1 227.2 715.1 226.9 717.1 225.8 719.1 224.5 723.1 221.5 725.6 220 726.6 219.6 727.6 219.3 728.6 219.1 729.6 219.1 731.1 219.2 732.6 219.4 737.6 220.6 740.1 221 746.1 221.7 750.1 222 752.1 222 754.6 221.7 764.6 220 766.6 219.9 768.1 219.9 769.6 220.3 771.1 221 777.1 224.7 781.6 227.7 783.1 228.4 784.6 228.8 790.1 229.6 795.6 230 822 230" class="rl"/>
<path d="M611.6 246.4 612.6 245.9 613.6 245.1 614.6 243.9 615.1 243 616.1 240.7 616.6 239.2 617.6 235.4 618.6 230.4 619.6 224.2 620.6 217 623.1 197 624.6 186.8 625.6 182.3 626.1 180.9 626.6 180.1 627.1 180.1 627.6 180.7 628.1 181.9 628.6 183.8 629.6 189.2 630.6 196.2 633.1 216.2 634.1 223.6 635.1 229.8 636.1 234.9 637.1 238.9 637.6 240.4 638.6 242.8 639.1 243.7 640.1 245 641.1 245.9 642.1 246.4 643.1 246.7 644.1 246.8 647.1 247 683.1 247 688.6 246.7 695.6 245.7 698.6 245.5 701.6 245.7 708.6 246.7 711.1 246.9 714.6 247 822 247 L822 247 L611.6 247 Z" fill="#00BD5C"/>
<path d="M611.6 246.4 612.6 245.9 613.6 245.1 614.6 243.9 615.1 243 616.1 240.7 616.6 239.2 617.6 235.4 618.6 230.4 619.6 224.2 620.6 217 623.1 197 624.6 186.8 625.6 182.3 626.1 180.9 626.6 180.1 627.1 180.1 627.6 180.7 628.1 181.9 628.6 183.8 629.6 189.2 630.6 196.2 633.1 216.2 634.1 223.6 635.1 229.8 636.1 234.9 637.1 238.9 637.6 240.4 638.6 242.8 639.1 243.7 640.1 245 641.1 245.9 642.1 246.4 643.1 246.7 644.1 246.8 647.1 247 683.1 247 688.6 246.7 695.6 245.7 698.6 245.5 701.6 245.7 708.6 246.7 711.1 246.9 714.6 247 822 247" class="rl"/>
<path d="M611.6 263.4 612.6 263 613.6 262.2 614.6 261 615.1 260.1 616.1 257.9 616.6 256.4 617.6 252.7 618.6 247.9 619.6 241.9 620.6 234.9 623.1 215.5 624.6 205.6 625.6 201.2 626.1 199.8 626.6 199.1 627.1 199.1 627.6 199.6 628.1 200.9 628.6 202.7 629.6 207.9 630.6 214.7 633.1 234.2 634.1 241.3 635.1 247.4 636.1 252.3 637.1 256.1 637.6 257.6 638.6 259.9 639.1 260.8 640.1 262.1 641.1 262.9 642.1 263.4 643.1 263.7 644.6 263.9 649.1 264 674.6 263.9 678.1 263.8 684.6 263.1 687.6 263 690.6 263.1 697.6 263.8 703.6 264 724.6 264 737.1 263.5 747.1 263.9 752.6 264 822 264 L822 264 L611.6 264 Z" fill="#64B200"/>
<path d="M611.6 263.4 612.6 263 613.6 262.2 614.6 261 615.1 260.1 616.1 257.9 616.6 256.4 617.6 252.7 618.6 247.9 619.6 241.9 620.6 234.9 623.1 215.5 624.6 205.6 625.6 201.2 626.1 199.8 626.6 199.1 627.1 199.1 627.6 199.6 628.1 200.9 628.6 202.7 629.6 207.9 630.6 214.7 633.1 234.2 634.1 241.3 635.1 247.4 636.1 252.3 637.1 256.1 637.6 257.6 638.6 259.9 639.1 260.8 640.1 262.1 641.1 262.9 642.1 263.4 643.1 263.7 644.6 263.9 649.1 264 674.6 263.9 678.1 263.8 684.6 263.1 687.6 263 690.6 263.1 697.6 263.8 703.6 264 724.6 264 737.1 263.5 747.1 263.9 752.6 264 822 264" class="rl"/>
<path d="M611.6 281 649.1 281 651.6 280.9 654.1 280.5 657.1 279.5 658.6 278.8 662.6 276.4 664.1 275.8 665.1 275.7 666.1 275.9 667.1 276.3 668.6 277.1 671.1 278.8 672.6 279.6 673.6 279.9 674.6 280.1 677.6 280.4 681.1 280.4 682.1 280.3 683.1 280 685.1 279.2 688.6 277.2 690.1 276.4 691.6 275.9 692.6 275.7 693.6 275.7 694.6 275.9 695.6 276.3 699.6 278.1 700.6 278.3 701.6 278.4 702.6 278.2 704.1 277.4 705.6 276.2 710.1 272.1 711.6 271.1 712.6 270.7 713.6 270.5 714.1 270.6 715.1 270.8 716.6 271.5 719.6 273.3 721.1 273.8 722.6 273.9 724.6 273.7 728.1 272.8 730.1 272 731.6 271 734.6 268.7 736.1 267.7 737.1 267.1 739.1 266.2 742.1 265 744.1 264.3 746.1 263.8 748.1 263.6 749.1 263.7 749.6 263.9 750.1 264.2 751.1 265.1 752.6 267.2 755.6 272.2 756.6 273.7 757.6 274.8 758.1 275.2 758.6 275.6 759.6 275.9 761.1 276 768.1 276 779.1 275.7 781.6 275.8 782.6 276 783.6 276.4 784.6 277 787.6 279 789.1 279.7 791.6 280.3 795.6 280.9 798.6 281 822 281 L822 281 L611.6 281 Z" fill="#AEA200"/>
<path d="M611.6 281 649.1 281 651.6 280.9 654.1 280.5 657.1 279.5 658.6 278.8 662.6 276.4 664.1 275.8 665.1 275.7 666.1 275.9 667.1 276.3 668.6 277.1 671.1 278.8 672.6 279.6 673.6 279.9 674.6 280.1 677.6 280.4 681.1 280.4 682.1 280.3 683.1 280 685.1 279.2 688.6 277.2 690.1 276.4 691.6 275.9 692.6 275.7 693.6 275.7 694.6 275.9 695.6 276.3 699.6 278.1 700.6 278.3 701.6 278.4 702.6 278.2 704.1 277.4 705.6 276.2 710.1 272.1 711.6 271.1 712.6 270.7 713.6 270.5 714.1 270.6 715.1 270.8 716.6 271.5 719.6 273.3 721.1 273.8 722.6 273.9 724.6 273.7 728.1 272.8 730.1 272 731.6 271 734.6 268.7 736.1 267.7 737.1 267.1 739.1 266.2 742.1 265 744.1 264.3 746.1 263.8 748.1 263.6 749.1 263.7 749.6 263.9 750.1 264.2 751.1 265.1 752.6 267.2 755.6 272.2 756.6 273.7 757.6 274.8 758.1 275.2 758.6 275.6 759.6 275.9 761.1 276 768.1 276 779.1 275.7 781.6 275.8 782.6 276 783.6 276.4 784.6 277 787.6 279 789.1 279.7 791.6 280.3 795.6 280.9 798.6 281 822 281" class="rl"/>
<path d="M611.6 298 614.1 297.8 615.6 297.6 617.1 297 618.1 296.4 619.1 295.6 620.6 293.8 623.6 289.2 624.6 287.9 625.6 286.9 626.1 286.6 626.6 286.4 627.1 286.4 627.6 286.5 628.1 286.8 629.1 287.8 630.1 289.1 633.1 293.7 634.1 294.9 635.1 295.9 636.1 296.7 637.6 297.4 639.1 297.7 640.6 297.9 644.6 298 665.6 298 668.6 297.8 672.1 297.3 676.1 296.6 678.6 295.8 681.1 294.6 686.6 291.3 688.6 290.2 690.1 289.6 691.1 289.3 693.1 289.1 694.6 289.2 696.1 289.5 700.6 290.9 702.1 291.2 704.6 291.5 707.6 291.4 711.1 291.2 722.6 290 727.1 289.7 731.6 289.5 735.6 289.6 740.6 290.1 754.1 292 774.1 294.2 789.1 295.7 798.1 296.6 806.1 297.2 817.6 297.9 822 298 L822 298 L611.6 298 Z" fill="#DB8E00"/>
<path d="M611.6 298 614.1 297.8 615.6 297.6 617.1 297 618.1 296.4 619.1 295.6 620.6 293.8 623.6 289.2 624.6 287.9 625.6 286.9 626.1 286.6 626.6 286.4 627.1 286.4 627.6 286.5 628.1 286.8 629.1 287.8 630.1 289.1 633.1 293.7 634.1 294.9 635.1 295.9 636.1 296.7 637.6 297.4 639.1 297.7 640.6 297.9 644.6 298 665.6 298 668.6 297.8 672.1 297.3 676.1 296.6 678.6 295.8 681.1 294.6 686.6 291.3 688.6 290.2 690.1 289.6 691.1 289.3 693.1 289.1 694.6 289.2 696.1 289.5 700.6 290.9 702.1 291.2 704.6 291.5 707.6 291.4 711.1 291.2 722.6 290 727.1 289.7 731.6 289.5 735.6 289.6 740.6 290.1 754.1 292 774.1 294.2 789.1 295.7 798.1 296.6 806.1 297.2 817.6 297.9 822 298" class="rl"/>
<path d="M611.6 315 614.1 314.8 615.6 314.4 617.1 313.6 618.1 312.8 619.1 311.6 620.6 309.2 623.6 302.9 624.6 301 625.6 299.7 626.1 299.3 626.6 299 627.1 299 627.6 299.2 628.1 299.6 629.1 300.9 630.1 302.7 633.1 309 634.1 310.8 635.1 312.1 636.1 313.2 637.6 314.2 639.1 314.6 640.6 314.9 644.1 315 656.6 315 659.1 314.7 662.6 313.9 665.6 312.9 667.1 312.3 668.1 311.7 670.6 310 675.6 306.1 678.1 304.4 680.1 303.6 681.1 303.4 682.1 303.3 683.6 303.4 685.1 303.8 687.1 304.5 692.1 306.7 693.6 307.1 695.1 307.4 697.1 307.5 700.6 307.4 714.6 306.5 717.1 306.4 719.1 306.5 720.6 306.7 722.1 307 728.1 308.8 730.6 309.4 733.6 309.6 745.6 309.9 749.6 310.1 752.6 310.7 758.6 312.4 761.6 313.1 768.6 314.1 774.6 314.7 777.6 314.9 780.1 315 822 315 L822 315 L611.6 315 Z" fill="#F8766D"/>
<path d="M611.6 315 614.1 314.8 615.6 314.4 617.1 313.6 618.1 312.8 619.1 311.6 620.6 309.2 623.6 302.9 624.6 301 625.6 299.7 626.1 299.3 626.6 299 627.1 299 627.6 299.2 628.1 299.6 629.1 300.9 630.1 302.7 633.1 309 634.1 310.8 635.1 312.1 636.1 313.2 637.6 314.2 639.1 314.6 640.6 314.9 644.1 315 656.6 315 659.1 314.7 662.6 313.9 665.6 312.9 667.1 312.3 668.1 311.7 670.6 310 675.6 306.1 678.1 304.4 680.1 303.6 681.1 303.4 682.1 303.3 683.6 303.4 685.1 303.8 687.1 304.5 692.1 306.7 693.6 307.1 695.1 307.4 697.1 307.5 700.6 307.4 714.6 306.5 717.1 306.4 719.1 306.5 720.6 306.7 722.1 307 728.1 308.8 730.6 309.4 733.6 309.6 745.6 309.9 749.6 310.1 752.6 310.7 758.6 312.4 761.6 313.1 768.6 314.1 774.6 314.7 777.6 314.9 780.1 315 822 315" class="rl"/>
<text x="605.3" y="315.0" class="yt">0</text>
<text x="605.3" y="298.0" class="yt">1</text>
<text x="605.3" y="281.0" class="yt">10</text>
<text x="605.3" y="264.0" class="yt">2</text>
<text x="605.3" y="247.0" class="yt">3</text>
<text x="605.3" y="230.0" class="yt">4</text>
<text x="605.3" y="213.0" class="yt">5</text>
<text x="605.3" y="196.0" class="yt">6</text>
<text x="605.3" y="179.0" class="yt">7</text>
<text x="605.3" y="162.0" class="yt">8</text>
<text x="605.3" y="145.0" class="yt">9</text>
<text x="626.9" y="334.0" class="xt">0</text>
<text x="682.1" y="334.0" class="xt">1</text>
<text x="737.3" y="334.0" class="xt">2</text>
<text x="792.5" y="334.0" class="xt">3</text>
<text x="611.5" y="79.6" class="pt">esg</text>
<text x="822.1" y="353.8" class="xl">Expression Level</text>
<text transform="translate(586.7 111.0) rotate(-90)" class="yl">Identity</text>
<line x1="85.4" y1="392.0" x2="85.4" y2="624.0" class="gl"/>
<line x1="130.6" y1="392.0" x2="130.6" y2="624.0" class="gl"/>
<line x1="175.8" y1="392.0" x2="175.8" y2="624.0" class="gl"/>
<line x1="221.0" y1="392.0" x2="221.0" y2="624.0" class="gl"/>
<line x1="266.2" y1="392.0" x2="266.2" y2="624.0" class="gl"/>
<path d="M68 444.6 70 444.3 71 444 72 443.5 73.5 442.3 75 440.4 76 438.7 77.5 435.3 78.5 432.6 81.5 423.6 82.5 421 83.5 419 84 418.3 84.5 417.8 85 417.5 85.5 417.4 86 417.6 86.5 418 87 418.6 88 420.4 89.5 424.2 93 434.5 94.5 438.1 95.5 440 97 442 98.5 443.3 100 444.1 102 444.5 104 444.6 105 444.5 106 444.2 108 443.2 110 441.9 111 440.9 112 439.5 115.5 433.2 117 431 118.5 429.2 120 427.7 121.5 426.4 122.5 425.9 123.5 425.5 125 425.4 136 425.3 138.5 425.1 139.5 424.9 141 424.5 147 422 148.5 421.6 149.5 421.5 150.5 421.6 151.5 421.9 152.5 422.5 154 423.8 161.5 432.5 165.5 437.4 167 439 168 439.9 170 441.4 173 443.2 175 444 176.5 444.4 180 444.7 185 444.8 279 444.8 L279 444.8 L68 444.8 Z" fill="#FF63B6"/>
<path d="M68 444.6 70 444.3 71 444 72 443.5 73.5 442.3 75 440.4 76 438.7 77.5 435.3 78.5 432.6 81.5 423.6 82.5 421 83.5 419 84 418.3 84.5 417.8 85 417.5 85.5 417.4 86 417.6 86.5 418 87 418.6 88 420.4 89.5 424.2 93 434.5 94.5 438.1 95.5 440 97 442 98.5 443.3 100 444.1 102 444.5 104 444.6 105 444.5 106 444.2 108 443.2 110 441.9 111 440.9 112 439.5 115.5 433.2 117 431 118.5 429.2 120 427.7 121.5 426.4 122.5 425.9 123.5 425.5 125 425.4 136 425.3 138.5 425.1 139.5 424.9 141 424.5 147 422 148.5 421.6 149.5 421.5 150.5 421.6 151.5 421.9 152.5 422.5 154 423.8 161.5 432.5 165.5 437.4 167 439 168 439.9 170 441.4 173 443.2 175 444 176.5 444.4 180 444.7 185 444.8 279 444.8" class="rl"/>
<path d="M68 462.3 185.5 462.2 189 462.2 191.5 462 193.5 461.6 195 461.1 196.5 460.2 197.5 459.4 198.5 458.3 199.5 456.9 200.5 455.2 201.5 453 203 448.8 204.5 443.5 206 437 207.5 429.5 211 410.7 213 401.3 214 397.6 215 394.9 215.5 393.9 216 393.3 216.5 392.9 217 392.8 217.5 392.9 218 393.4 218.5 394.2 219 395.2 220 398.1 221 401.8 223 411.4 227.5 435.3 229 442 230 445.9 231 449.2 232.5 453.3 234 456.4 235.5 458.5 237 460 238 460.6 239 461.1 241 461.7 243.5 462.1 249.5 462.2 279 462.2 L279 462.3 L68 462.3 Z" fill="#EF67EB"/>
<path d="M68 462.3 185.5 462.2 189 462.2 191.5 462 193.5 461.6 195 461.1 196.5 460.2 197.5 459.4 198.5 458.3 199.5 456.9 200.5 455.2 201.5 453 203 448.8 204.5 443.5 206 437 207.5 429.5 211 410.7 213 401.3 214 397.6 215 394.9 215.5 393.9 216 393.3 216.5 392.9 217 392.8 217.5 392.9 218 393.4 218.5 394.2 219 395.2 220 398.1 221 401.8 223 411.4 227.5 435.3 229 442 230 445.9 231 449.2 232.5 453.3 234 456.4 235.5 458.5 237 460 238 460.6 239 461.1 241 461.7 243.5 462.1 249.5 462.2 279 462.2" class="rl"/>
<path d="M68 479.7 73.5 479.7 76.5 479.6 83 478.8 85 478.7 87.5 478.8 93 479.3 95 479.3 97 479.2 99.5 478.8 102 478.2 104 477.4 106 476.4 108 474.9 110 473.1 112 470.7 114 467.8 115.5 465.4 117.5 461.7 124.5 447.6 126 444.9 127.5 442.6 129 440.8 130.5 439.5 131.5 439 132 438.8 133 438.7 133.5 438.8 134.5 439.1 136 440.1 137.5 441.7 139 443.7 140.5 446.2 142 449.1 147 459.3 149 463.2 151.5 467.5 153.5 470.4 155.5 472.8 157.5 474.6 159.5 476 160.5 476.5 162 477 164 477.5 173 479.2 175.5 479.5 178 479.6 181 479.6 183.5 479.5 191 478.6 194 478.5 197 478.7 204 479.5 209.5 479.7 279 479.7 L279 479.7 L68 479.7 Z" fill="#B385FF"/>
<path d="M68 479.7 73.5 479.7 76.5 479.6 83 478.8 85 478.7 87.5 478.8 93 479.3 95 479.3 97 479.2 99.5 478.8 102 478.2 104 477.4 106 476.4 108 474.9 110 473.1 112 470.7 114 467.8 115.5 465.4 117.5 461.7 124.5 447.6 126 444.9 127.5 442.6 129 440.8 130.5 439.5 131.5 439 132 438.8 133 438.7 133.5 438.8 134.5 439.1 136 440.1 137.5 441.7 139 443.7 140.5 446.2 142 449.1 147 459.3 149 463.2 151.5 467.5 153.5 470.4 155.5 472.8 157.5 474.6 159.5 476 160.5 476.5 162 477 164 477.5 173 479.2 175.5 479.5 178 479.6 181 479.6 183.5 479.5 191 478.6 194 478.5 197 478.7 204 479.5 209.5 479.7 279 479.7" class="rl"/>
<path d="M68 497.2 96 497.1 97.5 497 106.5 495.8 120 494.6 127.5 494.2 138 494.1 141 493.8 142.5 493.6 143.5 493.3 145 492.6 146 492 148 490.4 151.5 486.9 153 485.5 154.5 484.7 155.5 484.4 156 484.4 157 484.6 158.5 485.5 160 486.9 164 491.1 165.5 492.3 167 493.2 169 493.9 171 494.2 174 494.2 176.5 494 178 493.5 180 492.5 182 491.2 186 488.1 188 486.8 192.5 484.3 199 480.5 200.5 479.8 201.5 479.5 202.5 479.4 203.5 479.6 205.5 480.1 207 480.2 208 480 209 479.6 211.5 478.2 212.5 477.5 213.5 476.6 214.5 475.3 218.5 468 220 465.5 221 464.1 222.5 462.5 223.5 461.8 224.5 461.3 225.5 461.2 226.5 461.3 227 461.5 228 462.1 229 463 230.5 464.8 231.5 466.2 233 468.8 239 480.5 242 485.8 244 488.7 245.5 490.5 247 492.1 249 493.7 251 494.9 253 495.7 255.5 496.4 258 496.7 261 497 264.5 497.1 279 497.1 L279 497.2 L68 497.2 Z" fill="#00A6FF"/>
<path d="M68 497.2 96 497.1 97.5 497 106.5 495.8 120 494.6 127.5 494.2 138 494.1 141 493.8 142.5 493.6 143.5 493.3 145 492.6 146 492 148 490.4 151.5 486.9 153 485.5 154.5 484.7 155.5 484.4 156 484.4 157 484.6 158.5 485.5 160 486.9 164 491.1 165.5 492.3 167 493.2 169 493.9 171 494.2 174 494.2 176.5 494 178 493.5 180 492.5 182 491.2 186 488.1 188 486.8 192.5 484.3 199 480.5 200.5 479.8 201.5 479.5 202.5 479.4 203.5 479.6 205.5 480.1 207 480.2 208 480 209 479.6 211.5 478.2 212.5 477.5 213.5 476.6 214.5 475.3 218.5 468 220 465.5 221 464.1 222.5 462.5 223.5 461.8 224.5 461.3 225.5 461.2 226.5 461.3 227 461.5 228 462.1 229 463 230.5 464.8 231.5 466.2 233 468.8 239 480.5 242 485.8 244 488.7 245.5 490.5 247 492.1 249 493.7 251 494.9 253 495.7 255.5 496.4 258 496.7 261 497 264.5 497.1 279 497.1" class="rl"/>
<path d="M68 514.6 170.5 514.6 200 512 204.5 511.3 207 510.7 208 510.3 209 509.7 210 508.9 211 507.8 212 506.3 212.5 505.4 214 501.9 215.5 497.4 217 492.2 218.5 486.3 222.5 469.3 224.5 462.1 225.5 459.3 226.5 457.1 227.5 455.7 228 455.3 228.5 455.1 229 455.1 229.5 455.4 230 455.8 230.5 456.5 231.5 458.4 232.5 461 233.5 464.2 234.5 467.9 239.5 488.8 241 494.5 242 497.9 243.5 502.2 245 505.7 246.5 508.5 248 510.5 249.5 511.9 251 512.9 253 513.7 255.5 514.3 258 514.5 261 514.6 279 514.6 L279 514.6 L68 514.6 Z" fill="#00BADE"/>
<path d="M68 514.6 170.5 514.6 200 512 204.5 511.3 207 510.7 208 510.3 209 509.7 210 508.9 211 507.8 212 506.3 212.5 505.4 214 501.9 215.5 497.4 217 492.2 218.5 486.3 222.5 469.3 224.5 462.1 225.5 459.3 226.5 457.1 227.5 455.7 228 455.3 228.5 455.1 229 455.1 229.5 455.4 230 455.8 230.5 456.5 231.5 458.4 232.5 461 233.5 464.2 234.5 467.9 239.5 488.8 241 494.5 242 497.9 243.5 502.2 245 505.7 246.5 508.5 248 510.5 249.5 511.9 251 512.9 253 513.7 255.5 514.3 258 514.5 261 514.6 279 514.6" class="rl"/>
<path d="M68 532 72.5 531.9 74 531.7 75.5 531.4 77 530.9 78 530.4 83 527.6 84 527.2 85 527.1 86 527.1 87.5 527.5 89 528.2 93 530.5 94 530.9 95 531.2 96.5 531.2 98 530.9 99.5 530.3 101.5 529.3 103.5 527.9 105 526.6 106.5 524.8 110 519.9 111 518.7 112 517.6 113 516.8 114 516.1 118 513.9 119 513.2 120 512.2 121 511 122 509.5 126.5 501.7 127.5 500.2 129 498.3 131.5 495.3 133 493.7 134.5 492.6 135.5 492.3 136 492.3 137 492.5 137.5 492.8 138.5 493.6 139.5 494.8 141 497 144 501.8 145.5 504.5 147 507.5 150.5 515.1 152 518 154 521.2 156.5 524.6 158.5 527.1 159.5 528.1 160.5 528.9 161.5 529.6 162.5 530.1 165.5 531.1 167.5 531.6 169.5 531.9 171 532 173 531.9 176 531.6 181.5 530.3 183 530.1 184 530.1 186 530.2 190.5 531.4 193 531.8 196 532 201 532 204 531.9 206.5 531.6 213.5 530.3 215 530.1 216.5 530.1 218 530.1 219.5 530.3 224.5 531.3 226.5 531.6 231 532 237 532 279 532.1 L279 532.1 L68 532.1 Z" fill="#00C1A7"/>
<path d="M68 532 72.5 531.9 74 531.7 75.5 531.4 77 530.9 78 530.4 83 527.6 84 527.2 85 527.1 86 527.1 87.5 527.5 89 528.2 93 530.5 94 530.9 95 531.2 96.5 531.2 98 530.9 99.5 530.3 101.5 529.3 103.5 527.9 105 526.6 106.5 524.8 110 519.9 111 518.7 112 517.6 113 516.8 114 516.1 118 513.9 119 513.2 120 512.2 121 511 122 509.5 126.5 501.7 127.5 500.2 129 498.3 131.5 495.3 133 493.7 134.5 492.6 135.5 492.3 136 492.3 137 492.5 137.5 492.8 138.5 493.6 139.5 494.8 141 497 144 501.8 145.5 504.5 147 507.5 150.5 515.1 152 518 154 521.2 156.5 524.6 158.5 527.1 159.5 528.1 160.5 528.9 161.5 529.6 162.5 530.1 165.5 531.1 167.5 531.6 169.5 531.9 171 532 173 531.9 176 531.6 181.5 530.3 183 530.1 184 530.1 186 530.2 190.5 531.4 193 531.8 196 532 201 532 204 531.9 206.5 531.6 213.5 530.3 215 530.1 216.5 530.1 218 530.1 219.5 530.3 224.5 531.3 226.5 531.6 231 532 237 532 279 532.1" class="rl"/>
<path d="M68 549.5 70.5 549.4 72.5 549.2 74 548.9 75.5 548.4 77 547.6 78 546.9 82 543.3 83 542.6 84 542 85 541.7 86 541.7 86.5 541.9 87.5 542.4 89 543.5 91.5 545.8 93 547 94.5 547.9 95.5 548.3 96.5 548.6 97.5 548.8 99 548.9 101.5 548.6 103 548.3 104.5 547.8 107 546.6 109 545.3 111 543.5 113 541.1 115 538.3 116.5 535.9 118 533.2 124.5 520.3 126 517.7 127.5 515.4 129 513.6 130 512.7 131 512.1 131.5 511.9 132.5 511.7 133 511.7 134 512 135.5 512.9 137 514.4 138.5 516.5 141 520.8 146 530.7 148 534.5 150.5 538.7 152.5 541.4 154.5 543.6 155.5 544.6 157 545.7 159 546.9 161.5 547.8 163.5 548.2 165.5 548.4 173.5 548.7 182.5 549.3 188.5 549.5 195.5 549.4 199 549.2 202 548.8 204.5 548.2 211 546.4 213 546.1 214.5 546 216 546.1 218 546.5 223.5 548.1 226 548.7 228.5 549.1 231.5 549.4 238.5 549.5 279 549.5 L279 549.5 L68 549.5 Z" fill="#00BD5C"/>
<path d="M68 549.5 70.5 549.4 72.5 549.2 74 548.9 75.5 548.4 77 547.6 78 546.9 82 543.3 83 542.6 84 542 85 541.7 86 541.7 86.5 541.9 87.5 542.4 89 543.5 91.5 545.8 93 547 94.5 547.9 95.5 548.3 96.5 548.6 97.5 548.8 99 548.9 101.5 548.6 103 548.3 104.5 547.8 107 546.6 109 545.3 111 543.5 113 541.1 115 538.3 116.5 535.9 118 533.2 124.5 520.3 126 517.7 127.5 515.4 129 513.6 130 512.7 131 512.1 131.5 511.9 132.5 511.7 133 511.7 134 512 135.5 512.9 137 514.4 138.5 516.5 141 520.8 146 530.7 148 534.5 150.5 538.7 152.5 541.4 154.5 543.6 155.5 544.6 157 545.7 159 546.9 161.5 547.8 163.5 548.2 165.5 548.4 173.5 548.7 182.5 549.3 188.5 549.5 195.5 549.4 199 549.2 202 548.8 204.5 548.2 211 546.4 213 546.1 214.5 546 216 546.1 218 546.5 223.5 548.1 226 548.7 228.5 549.1 231.5 549.4 238.5 549.5 279 549.5" class="rl"/>
<path d="M68 567 166 566.9 172.5 566.8 181.5 566.1 185 566 188.5 566.1 196.5 566.7 201 566.8 205.5 566.6 207.5 566.3 209 566 210.5 565.5 211.5 565 213 564.2 214 563.4 215.5 562 216.5 560.9 218.5 557.9 220.5 554.2 223 548.2 225 542.7 229.5 529.4 231 525.5 232 523.2 233.5 520.4 234.5 519.1 235.5 518.2 236 517.9 236.5 517.8 237 517.8 238 518.1 239 518.9 240 520.2 241.5 522.9 242.5 525.2 244 529 249.5 545.1 252 551.6 253.5 554.9 254.5 556.8 256 559.3 257.5 561.3 259 562.9 261 564.4 263 565.4 265 566.1 267.5 566.5 270 566.8 273.5 566.9 279 566.9 L279 567 L68 567 Z" fill="#64B200"/>
<path d="M68 567 166 566.9 172.5 566.8 181.5 566.1 185 566 188.5 566.1 196.5 566.7 201 566.8 205.5 566.6 207.5 566.3 209 566 210.5 565.5 211.5 565 213 564.2 214 563.4 215.5 562 216.5 560.9 218.5 557.9 220.5 554.2 223 548.2 225 542.7 229.5 529.4 231 525.5 232 523.2 233.5 520.4 234.5 519.1 235.5 518.2 236 517.9 236.5 517.8 237 517.8 238 518.1 239 518.9 240 520.2 241.5 522.9 242.5 525.2 244 529 249.5 545.1 252 551.6 253.5 554.9 254.5 556.8 256 559.3 257.5 561.3 259 562.9 261 564.4 263 565.4 265 566.1 267.5 566.5 270 566.8 273.5 566.9 279 566.9" class="rl"/>
<path d="M68 584.4 95 584.4 98 584.3 100 584.2 102.5 583.6 104.5 582.9 107 581.4 110 579.2 111.5 577.8 113 575.9 114.5 573.2 115.5 570.8 116.5 567.9 118 562.7 122 545.7 123.5 540 124.5 537.1 125.5 535 126 534.3 126.5 533.9 127 533.8 127.5 533.9 128 534.4 128.5 535 129.5 537.2 130.5 540.2 132 545.9 136 563.4 137.5 569 138.5 572.1 139.5 574.7 140.5 576.7 141.5 578.1 142 578.6 143 579.3 144 579.4 144.5 579.3 145.5 578.9 147 577.6 150 574 151.5 572.4 152.5 571.7 153 571.5 154 571.4 154.5 571.5 155.5 571.9 157 573.2 158 574.4 161.5 579.1 162.5 580.3 163.5 581.3 165 582.3 166 582.8 167 583 168.5 583 169.5 582.7 170.5 582.2 172 581.2 175 578.6 176 577.9 177.5 577.1 178.5 577 179.5 577.1 181 577.9 182 578.6 185.5 581.6 187.5 583 188.5 583.4 190 583.9 192.5 584.3 198.5 584.4 279 584.4 L279 584.4 L68 584.4 Z" fill="#AEA200"/>
<path d="M68 584.4 95 584.4 98 584.3 100 584.2 102.5 583.6 104.5 582.9 107 581.4 110 579.2 111.5 577.8 113 575.9 114.5 573.2 115.5 570.8 116.5 567.9 118 562.7 122 545.7 123.5 540 124.5 537.1 125.5 535 126 534.3 126.5 533.9 127 533.8 127.5 533.9 128 534.4 128.5 535 129.5 537.2 130.5 540.2 132 545.9 136 563.4 137.5 569 138.5 572.1 139.5 574.7 140.5 576.7 141.5 578.1 142 578.6 143 579.3 144 579.4 144.5 579.3 145.5 578.9 147 577.6 150 574 151.5 572.4 152.5 571.7 153 571.5 154 571.4 154.5 571.5 155.5 571.9 157 573.2 158 574.4 161.5 579.1 162.5 580.3 163.5 581.3 165 582.3 166 582.8 167 583 168.5 583 169.5 582.7 170.5 582.2 172 581.2 175 578.6 176 577.9 177.5 577.1 178.5 577 179.5 577.1 181 577.9 182 578.6 185.5 581.6 187.5 583 188.5 583.4 190 583.9 192.5 584.3 198.5 584.4 279 584.4" class="rl"/>
<path d="M68 601.8 72.5 601.7 75.5 601.4 78 600.9 83 599.2 84.5 598.9 85.5 598.9 86.5 598.9 88 599.2 92 600.6 94 601.2 96 601.5 97.5 601.5 100 600.9 103.5 599.8 107 598.3 110 596.7 113 594.7 116 592.4 119 589.6 121.5 586.8 123.5 584.2 125 581.9 126.5 579.1 130.5 570.8 132.5 567.4 135 564.1 137 561.7 138.5 560.5 139.5 560.1 140 560.1 140.5 560.1 141.5 560.6 142 561 143 562 144.5 564.2 146.5 567.7 148.5 571.6 150 575.1 153.5 585 154.5 587.6 156 590.7 158 594.1 160 596.8 161.5 598.2 162.5 598.9 164 599.8 166 600.6 167.5 601.2 170 601.7 172.5 601.8 279 601.9 L279 601.9 L68 601.9 Z" fill="#DB8E00"/>
<path d="M68 601.8 72.5 601.7 75.5 601.4 78 600.9 83 599.2 84.5 598.9 85.5 598.9 86.5 598.9 88 599.2 92 600.6 94 601.2 96 601.5 97.5 601.5 100 600.9 103.5 599.8 107 598.3 110 596.7 113 594.7 116 592.4 119 589.6 121.5 586.8 123.5 584.2 125 581.9 126.5 579.1 130.5 570.8 132.5 567.4 135 564.1 137 561.7 138.5 560.5 139.5 560.1 140 560.1 140.5 560.1 141.5 560.6 142 561 143 562 144.5 564.2 146.5 567.7 148.5 571.6 150 575.1 153.5 585 154.5 587.6 156 590.7 158 594.1 160 596.8 161.5 598.2 162.5 598.9 164 599.8 166 600.6 167.5 601.2 170 601.7 172.5 601.8 279 601.9" class="rl"/>
<path d="M68 619.3 140.5 619.3 151.5 619.2 157.5 619 168 618.5 177.5 618.3 179 618.2 180.5 617.9 182.5 617.2 184 616.4 185 615.7 186 614.7 187 613.5 188 612.1 189 610.3 190.5 607.2 192 603.3 194 597.1 195.5 591.7 200 574.6 202 568.2 203.5 564.5 204.5 562.8 205.5 561.7 206 561.4 206.5 561.3 207 561.4 207.5 561.6 208.5 562.7 209.5 564.3 211 568 213 574.4 217.5 591.5 219 596.9 220.5 601.7 222 605.9 223.5 609.3 225 612.1 226.5 614.2 227.5 615.4 228.5 616.3 229.5 617 230.5 617.6 232.5 618.4 234.5 618.8 237.5 619.1 244.5 619.3 279 619.3 L279 619.3 L68 619.3 Z" fill="#F8766D"/>
<path d="M68 619.3 140.5 619.3 151.5 619.2 157.5 619 168 618.5 177.5 618.3 179 618.2 180.5 617.9 182.5 617.2 184 616.4 185 615.7 186 614.7 187 613.5 188 612.1 189 610.3 190.5 607.2 192 603.3 194 597.1 195.5 591.7 200 574.6 202 568.2 203.5 564.5 204.5 562.8 205.5 561.7 206 561.4 206.5 561.3 207 561.4 207.5 561.6 208.5 562.7 209.5 564.3 211 568 213 574.4 217.5 591.5 219 596.9 220.5 601.7 222 605.9 223.5 609.3 225 612.1 226.5 614.2 227.5 615.4 228.5 616.3 229.5 617 230.5 617.6 232.5 618.4 234.5 618.8 237.5 619.1 244.5 619.3 279 619.3" class="rl"/>
<text x="61.3" y="619.3" class="yt">0</text>
<text x="61.3" y="601.9" class="yt">1</text>
<text x="61.3" y="584.4" class="yt">10</text>
<text x="61.3" y="567.0" class="yt">2</text>
<text x="61.3" y="549.5" class="yt">3</text>
<text x="61.3" y="532.1" class="yt">4</text>
<text x="61.3" y="514.6" class="yt">5</text>
<text x="61.3" y="497.2" class="yt">6</text>
<text x="61.3" y="479.7" class="yt">7</text>
<text x="61.3" y="462.3" class="yt">8</text>
<text x="61.3" y="444.8" class="yt">9</text>
<text x="85.4" y="638.0" class="xt">0</text>
<text x="130.6" y="638.0" class="xt">2</text>
<text x="175.8" y="638.0" class="xt">4</text>
<text x="221.0" y="638.0" class="xt">6</text>
<text x="266.2" y="638.0" class="xt">8</text>
<text x="68.2" y="383.6" class="pt">AstC</text>
<text x="279.1" y="657.8" class="xl">Expression Level</text>
<text transform="translate(42.9 415.5) rotate(-90)" class="yl">Identity</text>
<line x1="364.4" y1="392.0" x2="364.4" y2="624.0" class="gl"/>
<line x1="415.6" y1="392.0" x2="415.6" y2="624.0" class="gl"/>
<line x1="466.9" y1="392.0" x2="466.9" y2="624.0" class="gl"/>
<line x1="518.1" y1="392.0" x2="518.1" y2="624.0" class="gl"/>
<path d="M339.6 457 456.6 457 461.6 456.8 465.6 456.5 468.6 456 471.6 455.2 473.1 454.5 474.6 453.7 476.1 452.7 477.6 451.5 479.1 449.9 480.6 448.1 482.1 446 483.1 444.3 485.6 439.5 487.1 436.2 488.6 432.5 491.1 425.8 497.1 408.7 498.6 404.7 500.1 401.2 502.1 397.3 503.6 395.1 504.6 394.1 505.6 393.4 506.6 393 507.1 393 507.6 393 508.6 393.4 509.1 393.7 510.1 394.6 511.6 396.6 512.6 398.3 513.6 400.2 515.1 403.6 517.1 408.8 523.1 425.9 526.1 433.9 528.1 438.6 529.6 441.7 531.1 444.4 532.6 446.8 534.1 448.8 536.1 451 538.1 452.7 540.1 454 542.1 455 544.6 455.8 547.1 456.3 550.6 456.7 L550.6 457 L339.6 457 Z" fill="#FF63B6"/>
<path d="M339.6 457 456.6 457 461.6 456.8 465.6 456.5 468.6 456 471.6 455.2 473.1 454.5 474.6 453.7 476.1 452.7 477.6 451.5 479.1 449.9 480.6 448.1 482.1 446 483.1 444.3 485.6 439.5 487.1 436.2 488.6 432.5 491.1 425.8 497.1 408.7 498.6 404.7 500.1 401.2 502.1 397.3 503.6 395.1 504.6 394.1 505.6 393.4 506.6 393 507.1 393 507.6 393 508.6 393.4 509.1 393.7 510.1 394.6 511.6 396.6 512.6 398.3 513.6 400.2 515.1 403.6 517.1 408.8 523.1 425.9 526.1 433.9 528.1 438.6 529.6 441.7 531.1 444.4 532.6 446.8 534.1 448.8 536.1 451 538.1 452.7 540.1 454 542.1 455 544.6 455.8 547.1 456.3 550.6 456.7" class="rl"/>
<path d="M339.6 473.3 341.1 473.2 342.1 473 343.6 472.5 345.1 471.9 347.6 470.5 348.6 469.6 349.6 468.4 350.6 466.8 351.6 464.9 354.6 458.5 361.1 445.4 362.6 442.8 363.6 441.6 364.6 440.8 365.1 440.6 365.6 440.5 366.6 440.6 368.1 441.3 371.6 443.4 372.6 443.7 373.6 443.9 375.1 443.6 376.1 443.2 377.1 442.6 379.6 440.6 381.1 439.1 382.1 438 383.6 435.6 386.6 429.7 387.6 428 388.6 426.5 390.6 424 392.1 422.3 393.6 421 394.6 420.4 395.6 420.2 396.6 420.5 397.1 420.8 397.6 421.2 398.6 422.3 400.6 425.4 403.6 430.8 405.1 433.8 406.6 437.1 413.6 454 415.6 458.1 417.6 461.5 418.6 463 420.1 464.9 421.6 466.7 423.6 468.7 425.1 470.1 426.1 470.8 427.1 471.4 428.1 471.8 431.6 472.8 434.6 473.2 438.6 473.3 447.1 473.2 450.6 473 453.6 472.6 456.6 472.1 463.6 470.7 466.1 470.4 468.1 470.3 470.1 470.4 472.1 470.7 479.1 472.1 482.1 472.6 485.1 473 488.6 473.2 497.6 473.3 550.6 473.3 L550.6 473.3 L339.6 473.3 Z" fill="#EF67EB"/>
<path d="M339.6 473.3 341.1 473.2 342.1 473 343.6 472.5 345.1 471.9 347.6 470.5 348.6 469.6 349.6 468.4 350.6 466.8 351.6 464.9 354.6 458.5 361.1 445.4 362.6 442.8 363.6 441.6 364.6 440.8 365.1 440.6 365.6 440.5 366.6 440.6 368.1 441.3 371.6 443.4 372.6 443.7 373.6 443.9 375.1 443.6 376.1 443.2 377.1 442.6 379.6 440.6 381.1 439.1 382.1 438 383.6 435.6 386.6 429.7 387.6 428 388.6 426.5 390.6 424 392.1 422.3 393.6 421 394.6 420.4 395.6 420.2 396.6 420.5 397.1 420.8 397.6 421.2 398.6 422.3 400.6 425.4 403.6 430.8 405.1 433.8 406.6 437.1 413.6 454 415.6 458.1 417.6 461.5 418.6 463 420.1 464.9 421.6 466.7 423.6 468.7 425.1 470.1 426.1 470.8 427.1 471.4 428.1 471.8 431.6 472.8 434.6 473.2 438.6 473.3 447.1 473.2 450.6 473 453.6 472.6 456.6 472.1 463.6 470.7 466.1 470.4 468.1 470.3 470.1 470.4 472.1 470.7 479.1 472.1 482.1 472.6 485.1 473 488.6 473.2 497.6 473.3 550.6 473.3" class="rl"/>
<path d="M339.6 489.6 341.1 489.3 342.1 488.9 343.1 488.4 344.6 487.3 346.1 485.8 347.6 484 348.6 482.5 349.1 481.5 350.1 479.1 351.6 474.1 352.6 469.8 355.1 457.6 356.6 451.8 358.1 447.1 360.1 442.1 361.6 439 362.6 437.1 363.6 435.7 364.1 435.2 364.6 435 365.1 435 365.6 435.2 366.1 435.8 366.6 436.5 367.1 437.5 368.1 439.8 370.1 445.6 372.6 454.3 374.1 458.4 375.1 460.4 376.1 462.1 376.6 462.8 377.6 463.8 379.1 464.9 380.6 465.4 381.6 465.5 382.1 465.4 383.1 465 384.6 463.7 388.1 459.6 392.6 454.7 394.1 453.2 395.1 452.5 396.1 452 397.1 451.9 398.1 452.2 399.1 452.8 400.6 454.3 403.6 457.9 405.6 460.7 407.6 463.9 409.6 467.3 414.1 476.1 416.1 479.3 418.1 482 420.1 484.1 422.1 485.7 424.6 487.3 426.1 488 427.1 488.3 429.1 488.8 431.6 489.2 435.6 489.6 463.1 489.6 471.1 489.5 475.1 489.3 478.1 489 481.6 488.4 488.6 487 491.1 486.7 493.1 486.6 495.1 486.7 497.1 487 504.1 488.4 507.1 488.9 509.6 489.2 512.6 489.4 520.6 489.6 550.6 489.6 L550.6 489.6 L339.6 489.6 Z" fill="#B385FF"/>
<path d="M339.6 489.6 341.1 489.3 342.1 488.9 343.1 488.4 344.6 487.3 346.1 485.8 347.6 484 348.6 482.5 349.1 481.5 350.1 479.1 351.6 474.1 352.6 469.8 355.1 457.6 356.6 451.8 358.1 447.1 360.1 442.1 361.6 439 362.6 437.1 363.6 435.7 364.1 435.2 364.6 435 365.1 435 365.6 435.2 366.1 435.8 366.6 436.5 367.1 437.5 368.1 439.8 370.1 445.6 372.6 454.3 374.1 458.4 375.1 460.4 376.1 462.1 376.6 462.8 377.6 463.8 379.1 464.9 380.6 465.4 381.6 465.5 382.1 465.4 383.1 465 384.6 463.7 388.1 459.6 392.6 454.7 394.1 453.2 395.1 452.5 396.1 452 397.1 451.9 398.1 452.2 399.1 452.8 400.6 454.3 403.6 457.9 405.6 460.7 407.6 463.9 409.6 467.3 414.1 476.1 416.1 479.3 418.1 482 420.1 484.1 422.1 485.7 424.6 487.3 426.1 488 427.1 488.3 429.1 488.8 431.6 489.2 435.6 489.6 463.1 489.6 471.1 489.5 475.1 489.3 478.1 489 481.6 488.4 488.6 487 491.1 486.7 493.1 486.6 495.1 486.7 497.1 487 504.1 488.4 507.1 488.9 509.6 489.2 512.6 489.4 520.6 489.6 550.6 489.6" class="rl"/>
<path d="M339.6 505.9 341.1 505.7 342.1 505.6 343.6 505.1 345.1 504.5 347.6 503.1 348.6 502.3 349.6 501.2 351.1 499.1 352.6 496.4 357.1 488.2 360.6 481.3 361.6 479.4 362.6 477.9 363.6 476.8 364.1 476.5 364.6 476.3 365.1 476.2 365.6 476.3 366.1 476.5 366.6 476.8 367.6 477.8 375.1 487.4 376.1 488.3 377.1 488.9 378.1 489.1 378.6 489 379.6 488.5 381.1 487.3 384.6 484.2 388.6 481.2 390.6 479.8 391.6 479.3 392.6 479 393.6 478.8 394.6 478.9 395.6 479.1 396.6 479.6 397.6 480.2 399.1 481.3 404.6 486 409.6 490.9 411.1 492.2 412.1 493 414.1 494.1 417.1 495.4 419.6 496.2 421.6 496.7 423.1 496.8 424.6 496.8 426.1 496.5 428.1 495.9 430.6 494.7 435.1 492.3 436.6 491.4 441.1 488.1 443.1 487 445.1 486.2 447.6 485.4 449.6 485 451.1 485 452.6 485.3 453.6 485.7 454.6 486.3 456.1 487.3 460.1 490.4 467.6 495.7 470.1 497.4 473.6 499.3 477.6 501.3 480.6 502.5 483.6 503.5 488.1 504.5 491.1 505.1 494.1 505.5 502.6 505.9 550.6 505.9 L550.6 505.9 L339.6 505.9 Z" fill="#00A6FF"/>
<path d="M339.6 505.9 341.1 505.7 342.1 505.6 343.6 505.1 345.1 504.5 347.6 503.1 348.6 502.3 349.6 501.2 351.1 499.1 352.6 496.4 357.1 488.2 360.6 481.3 361.6 479.4 362.6 477.9 363.6 476.8 364.1 476.5 364.6 476.3 365.1 476.2 365.6 476.3 366.1 476.5 366.6 476.8 367.6 477.8 375.1 487.4 376.1 488.3 377.1 488.9 378.1 489.1 378.6 489 379.6 488.5 381.1 487.3 384.6 484.2 388.6 481.2 390.6 479.8 391.6 479.3 392.6 479 393.6 478.8 394.6 478.9 395.6 479.1 396.6 479.6 397.6 480.2 399.1 481.3 404.6 486 409.6 490.9 411.1 492.2 412.1 493 414.1 494.1 417.1 495.4 419.6 496.2 421.6 496.7 423.1 496.8 424.6 496.8 426.1 496.5 428.1 495.9 430.6 494.7 435.1 492.3 436.6 491.4 441.1 488.1 443.1 487 445.1 486.2 447.6 485.4 449.6 485 451.1 485 452.6 485.3 453.6 485.7 454.6 486.3 456.1 487.3 460.1 490.4 467.6 495.7 470.1 497.4 473.6 499.3 477.6 501.3 480.6 502.5 483.6 503.5 488.1 504.5 491.1 505.1 494.1 505.5 502.6 505.9 550.6 505.9" class="rl"/>
<path d="M339.6 522.2 341.1 522 342.6 521.6 344.1 520.9 346.1 519.6 347.6 518.4 348.6 517.3 349.6 515.6 350.1 514.6 351.1 512.2 352.6 507.8 356.6 494.6 358.1 488.7 360.6 477.8 362.1 472.3 363.1 469.8 363.6 468.9 364.1 468.5 364.6 468.3 365.1 468.4 365.6 468.7 366.1 469.2 367.1 470.7 371.6 479.2 374.6 485.1 375.6 486.7 376.6 487.8 377.1 488.2 377.6 488.4 378.1 488.4 379.1 488.2 380.6 487.4 383.1 485.4 384.6 484.4 387.1 483.1 388.6 482.4 389.6 482.2 390.6 482.2 391.6 482.4 392.1 482.7 393.1 483.4 394.1 484.4 396.6 487.6 401.1 493.9 405.1 500.6 407.1 503.7 410.6 508.4 413.1 511.3 414.6 512.8 416.1 514 418.1 515.5 420.1 516.9 421.6 517.7 423.1 518.4 426.6 519.6 430.6 520.6 434.6 521.2 440.1 521.9 444.6 522.2 471.1 522.2 478.6 522.1 483.1 521.9 492.1 520.9 495.6 520.7 499.1 520.9 508.1 521.9 513.1 522.1 550.6 522.2 L550.6 522.2 L339.6 522.2 Z" fill="#00BADE"/>
<path d="M339.6 522.2 341.1 522 342.6 521.6 344.1 520.9 346.1 519.6 347.6 518.4 348.6 517.3 349.6 515.6 350.1 514.6 351.1 512.2 352.6 507.8 356.6 494.6 358.1 488.7 360.6 477.8 362.1 472.3 363.1 469.8 363.6 468.9 364.1 468.5 364.6 468.3 365.1 468.4 365.6 468.7 366.1 469.2 367.1 470.7 371.6 479.2 374.6 485.1 375.6 486.7 376.6 487.8 377.1 488.2 377.6 488.4 378.1 488.4 379.1 488.2 380.6 487.4 383.1 485.4 384.6 484.4 387.1 483.1 388.6 482.4 389.6 482.2 390.6 482.2 391.6 482.4 392.1 482.7 393.1 483.4 394.1 484.4 396.6 487.6 401.1 493.9 405.1 500.6 407.1 503.7 410.6 508.4 413.1 511.3 414.6 512.8 416.1 514 418.1 515.5 420.1 516.9 421.6 517.7 423.1 518.4 426.6 519.6 430.6 520.6 434.6 521.2 440.1 521.9 444.6 522.2 471.1 522.2 478.6 522.1 483.1 521.9 492.1 520.9 495.6 520.7 499.1 520.9 508.1 521.9 513.1 522.1 550.6 522.2" class="rl"/>
<path d="M339.6 538.5 341.1 538.3 342.6 538 344.1 537.4 346.1 536.3 347.6 535.2 348.6 534.2 349.6 532.7 350.1 531.7 351.1 529.5 352.6 525.4 355.1 517.8 356.6 512.9 358.1 507.1 360.6 496.2 362.1 490.6 363.1 488.1 363.6 487.3 364.1 486.8 364.6 486.6 365.1 486.6 365.6 486.9 366.6 488 367.6 489.5 369.6 492.9 374.6 501.1 375.6 502.4 376.1 502.9 377.1 503.6 377.6 503.7 378.1 503.7 378.6 503.6 379.6 503 380.6 502.1 384.1 498.3 386.1 496.7 388.6 495.1 390.1 494.4 391.1 494.2 392.1 494.3 393.1 494.8 394.1 495.7 395.6 497.7 402.1 507.9 408.6 518.6 413.6 526.4 415.6 529.2 417.6 531.3 419.1 532.6 421.1 534 423.1 535.3 424.6 536.1 426.1 536.7 427.6 537.2 430.1 537.8 432.6 538.2 434.6 538.4 436.6 538.5 550.6 538.5 L550.6 538.5 L339.6 538.5 Z" fill="#00C1A7"/>
<path d="M339.6 538.5 341.1 538.3 342.6 538 344.1 537.4 346.1 536.3 347.6 535.2 348.6 534.2 349.6 532.7 350.1 531.7 351.1 529.5 352.6 525.4 355.1 517.8 356.6 512.9 358.1 507.1 360.6 496.2 362.1 490.6 363.1 488.1 363.6 487.3 364.1 486.8 364.6 486.6 365.1 486.6 365.6 486.9 366.6 488 367.6 489.5 369.6 492.9 374.6 501.1 375.6 502.4 376.1 502.9 377.1 503.6 377.6 503.7 378.1 503.7 378.6 503.6 379.6 503 380.6 502.1 384.1 498.3 386.1 496.7 388.6 495.1 390.1 494.4 391.1 494.2 392.1 494.3 393.1 494.8 394.1 495.7 395.6 497.7 402.1 507.9 408.6 518.6 413.6 526.4 415.6 529.2 417.6 531.3 419.1 532.6 421.1 534 423.1 535.3 424.6 536.1 426.1 536.7 427.6 537.2 430.1 537.8 432.6 538.2 434.6 538.4 436.6 538.5 550.6 538.5" class="rl"/>
<path d="M339.6 554.8 340.6 554.6 341.6 554.3 342.6 553.8 343.6 553.1 345.1 551.8 346.1 550.8 347.1 549.7 348.1 548.1 349.1 546 350.1 543.6 353.6 533.6 360.1 516.4 361.1 514.1 362.1 512.2 363.1 510.7 363.6 510.2 364.1 509.8 364.6 509.7 365.1 509.6 365.6 509.8 366.6 510.4 368.1 512.1 370.6 515.5 375.1 521.3 376.1 522.3 376.6 522.7 377.1 522.9 377.6 523 378.1 523 378.6 522.8 379.1 522.5 380.1 521.5 381.1 520.2 384.1 515.8 387.1 512.3 389.1 510.2 390.1 509.3 391.1 508.6 392.1 508.3 392.6 508.2 393.6 508.4 394.1 508.7 395.1 509.5 396.1 510.6 397.6 512.8 402.6 521.1 404.1 524 407.6 531.2 409.6 534.9 413.1 540.8 415.6 544.4 417.6 546.6 419.1 547.9 420.6 549.1 422.1 550.1 423.6 550.9 426.1 551.8 430.1 552.7 434.1 553.2 447.6 553.9 459.6 554.8 550.6 554.8 L550.6 554.8 L339.6 554.8 Z" fill="#00BD5C"/>
<path d="M339.6 554.8 340.6 554.6 341.6 554.3 342.6 553.8 343.6 553.1 345.1 551.8 346.1 550.8 347.1 549.7 348.1 548.1 349.1 546 350.1 543.6 353.6 533.6 360.1 516.4 361.1 514.1 362.1 512.2 363.1 510.7 363.6 510.2 364.1 509.8 364.6 509.7 365.1 509.6 365.6 509.8 366.6 510.4 368.1 512.1 370.6 515.5 375.1 521.3 376.1 522.3 376.6 522.7 377.1 522.9 377.6 523 378.1 523 378.6 522.8 379.1 522.5 380.1 521.5 381.1 520.2 384.1 515.8 387.1 512.3 389.1 510.2 390.1 509.3 391.1 508.6 392.1 508.3 392.6 508.2 393.6 508.4 394.1 508.7 395.1 509.5 396.1 510.6 397.6 512.8 402.6 521.1 404.1 524 407.6 531.2 409.6 534.9 413.1 540.8 415.6 544.4 417.6 546.6 419.1 547.9 420.6 549.1 422.1 550.1 423.6 550.9 426.1 551.8 430.1 552.7 434.1 553.2 447.6 553.9 459.6 554.8 550.6 554.8" class="rl"/>
<path d="M339.6 571.1 343.6 571 348.1 570.6 352.1 570.1 354.1 569.5 356.6 568.3 360.6 565.9 362.6 564.6 368.6 560.3 374.6 556.9 377.1 555.6 379.1 554.8 381.1 554.3 382.6 554.1 385.6 554.2 389.6 554.6 394.1 555.3 397.1 556 400.6 557.2 405.6 559.1 407.6 560 414.1 563.4 416.1 564.2 418.1 564.7 424.1 565.5 429.1 565.9 431.1 565.8 432.6 565.7 434.6 565.3 436.6 564.8 441.6 563.3 444.1 562.4 446.6 561.3 452.1 558.7 454.6 557.6 457.1 556.8 462.1 555.5 464.6 554.7 466.6 553.8 468.1 552.9 469.6 551.7 471.6 549.9 473.6 547.8 475.1 546 477.1 543.1 481.1 536.1 482.1 534.6 483.1 533.4 484.6 531.9 486.1 530.7 487.6 529.9 488.6 529.7 489.6 530 490.6 530.6 491.6 531.6 493.1 533.5 496.1 537.8 497.6 540.2 504.6 553 509.6 560.8 511.1 562.9 512.6 564.7 514.1 566.1 516.1 567.5 518.6 569 520.6 569.8 522.6 570.3 526.6 570.9 530.6 571.1 550.6 571.1 L550.6 571.1 L339.6 571.1 Z" fill="#64B200"/>
<path d="M339.6 571.1 343.6 571 348.1 570.6 352.1 570.1 354.1 569.5 356.6 568.3 360.6 565.9 362.6 564.6 368.6 560.3 374.6 556.9 377.1 555.6 379.1 554.8 381.1 554.3 382.6 554.1 385.6 554.2 389.6 554.6 394.1 555.3 397.1 556 400.6 557.2 405.6 559.1 407.6 560 414.1 563.4 416.1 564.2 418.1 564.7 424.1 565.5 429.1 565.9 431.1 565.8 432.6 565.7 434.6 565.3 436.6 564.8 441.6 563.3 444.1 562.4 446.6 561.3 452.1 558.7 454.6 557.6 457.1 556.8 462.1 555.5 464.6 554.7 466.6 553.8 468.1 552.9 469.6 551.7 471.6 549.9 473.6 547.8 475.1 546 477.1 543.1 481.1 536.1 482.1 534.6 483.1 533.4 484.6 531.9 486.1 530.7 487.6 529.9 488.6 529.7 489.6 530 490.6 530.6 491.6 531.6 493.1 533.5 496.1 537.8 497.6 540.2 504.6 553 509.6 560.8 511.1 562.9 512.6 564.7 514.1 566.1 516.1 567.5 518.6 569 520.6 569.8 522.6 570.3 526.6 570.9 530.6 571.1 550.6 571.1" class="rl"/>
<path d="M339.6 587.4 341.1 587.2 343.1 586.9 345.1 586.3 347.6 585.5 349.1 585 350.6 584.2 351.6 583.5 352.1 583 353.1 581.6 354.1 579.4 357.1 570.6 358.1 568 359.1 565.7 360.6 562.8 362.1 560.2 363.6 557.8 364.6 556.4 365.6 555.2 367.1 553.7 371.6 550.2 373.1 548.9 374.6 547.3 378.6 542.6 381.1 540.2 383.6 538 385.1 536.9 386.6 536.1 387.6 536 388.6 536.1 389.6 536.5 390.6 537.2 391.6 538.2 393.1 539.9 394.6 541.7 395.6 543.2 396.6 544.8 398.1 547.7 401.1 554.3 408.1 570.8 409.6 573.8 411.1 576.2 412.1 577.5 413.6 579.3 414.6 580.4 416.1 581.7 417.6 582.8 419.1 583.7 420.6 584.4 422.1 585 424.1 585.5 425.6 585.6 427.1 585.5 428.6 585.2 429.6 584.8 431.1 584 435.6 580.7 437.6 579.4 438.6 578.9 439.6 578.6 441.1 578.4 442.6 578.6 443.6 578.9 444.6 579.4 446.6 580.7 451.1 584 452.6 584.9 454.1 585.7 455.6 586.2 457.1 586.7 458.6 586.9 460.6 587.2 464.1 587.3 469.1 587.4 550.6 587.4 L550.6 587.4 L339.6 587.4 Z" fill="#AEA200"/>
<path d="M339.6 587.4 341.1 587.2 343.1 586.9 345.1 586.3 347.6 585.5 349.1 585 350.6 584.2 351.6 583.5 352.1 583 353.1 581.6 354.1 579.4 357.1 570.6 358.1 568 359.1 565.7 360.6 562.8 362.1 560.2 363.6 557.8 364.6 556.4 365.6 555.2 367.1 553.7 371.6 550.2 373.1 548.9 374.6 547.3 378.6 542.6 381.1 540.2 383.6 538 385.1 536.9 386.6 536.1 387.6 536 388.6 536.1 389.6 536.5 390.6 537.2 391.6 538.2 393.1 539.9 394.6 541.7 395.6 543.2 396.6 544.8 398.1 547.7 401.1 554.3 408.1 570.8 409.6 573.8 411.1 576.2 412.1 577.5 413.6 579.3 414.6 580.4 416.1 581.7 417.6 582.8 419.1 583.7 420.6 584.4 422.1 585 424.1 585.5 425.6 585.6 427.1 585.5 428.6 585.2 429.6 584.8 431.1 584 435.6 580.7 437.6 579.4 438.6 578.9 439.6 578.6 441.1 578.4 442.6 578.6 443.6 578.9 444.6 579.4 446.6 580.7 451.1 584 452.6 584.9 454.1 585.7 455.6 586.2 457.1 586.7 458.6 586.9 460.6 587.2 464.1 587.3 469.1 587.4 550.6 587.4" class="rl"/>
<path d="M339.6 603.7 341.1 603.5 342.1 603.2 343.6 602.6 345.1 601.7 346.6 600.6 348.1 599.3 349.1 598.1 350.1 596.5 351.6 593.4 353.1 589.5 354.1 586.4 356.6 577.3 357.6 574 360.1 566.6 361.6 562.6 362.6 560.3 363.6 558.5 364.6 557.3 365.1 557 365.6 556.9 366.1 557 366.6 557.2 367.1 557.6 368.1 558.9 372.1 565.9 376.1 572 377.1 573.2 377.6 573.6 378.6 574.2 379.1 574.2 379.6 574.1 380.6 573.6 382.1 572.2 391.1 560.2 392.6 558.5 393.6 557.7 394.6 557.4 395.1 557.4 395.6 557.5 396.1 557.8 396.6 558.2 397.6 559.4 398.6 560.9 399.6 562.6 403.6 570.2 408.1 580.2 410.1 584.2 413.1 589.8 415.1 592.9 416.6 594.7 418.1 596.2 419.6 597.5 421.1 598.6 423.1 599.8 425.6 601.1 427.6 602 429.1 602.5 431.1 602.9 434.1 603.4 436.1 603.6 438.6 603.7 550.6 603.7 L550.6 603.7 L339.6 603.7 Z" fill="#DB8E00"/>
<path d="M339.6 603.7 341.1 603.5 342.1 603.2 343.6 602.6 345.1 601.7 346.6 600.6 348.1 599.3 349.1 598.1 350.1 596.5 351.6 593.4 353.1 589.5 354.1 586.4 356.6 577.3 357.6 574 360.1 566.6 361.6 562.6 362.6 560.3 363.6 558.5 364.6 557.3 365.1 557 365.6 556.9 366.1 557 366.6 557.2 367.1 557.6 368.1 558.9 372.1 565.9 376.1 572 377.1 573.2 377.6 573.6 378.6 574.2 379.1 574.2 379.6 574.1 380.6 573.6 382.1 572.2 391.1 560.2 392.6 558.5 393.6 557.7 394.6 557.4 395.1 557.4 395.6 557.5 396.1 557.8 396.6 558.2 397.6 559.4 398.6 560.9 399.6 562.6 403.6 570.2 408.1 580.2 410.1 584.2 413.1 589.8 415.1 592.9 416.6 594.7 418.1 596.2 419.6 597.5 421.1 598.6 423.1 599.8 425.6 601.1 427.6 602 429.1 602.5 431.1 602.9 434.1 603.4 436.1 603.6 438.6 603.7 550.6 603.7" class="rl"/>
<path d="M339.6 620 340.6 619.8 341.6 619.6 342.6 619.1 344.1 618.1 345.6 616.9 347.1 615.4 348.1 614.2 349.1 612.8 350.6 610 352.6 605.2 354.1 600.9 356.1 594.4 357.6 590.4 359.1 587.4 360.6 584.9 362.1 582.8 363.6 581.1 364.6 580.4 365.1 580.1 366.1 579.9 366.6 579.9 367.6 580.3 371.1 582.7 373.6 583.9 375.1 584.4 376.1 584.5 377.1 584.5 377.6 584.4 378.6 583.8 379.6 582.9 383.1 578.8 387.1 574.8 388.6 573.7 389.6 573.3 390.1 573.2 390.6 573.2 391.6 573.5 393.1 574.5 394.6 576 396.6 578.5 400.1 583.1 402.1 586 408.1 595.8 413.1 603.5 415.1 606.3 417.6 609.1 420.1 611.5 422.1 612.8 424.1 613.8 426.1 614.7 428.1 615.5 430.6 616.3 434.6 617.2 442.1 618.4 448.6 619.1 454.1 619.5 481.1 619.5 498.6 620 550.6 620 L550.6 620 L339.6 620 Z" fill="#F8766D"/>
<path d="M339.6 620 340.6 619.8 341.6 619.6 342.6 619.1 344.1 618.1 345.6 616.9 347.1 615.4 348.1 614.2 349.1 612.8 350.6 610 352.6 605.2 354.1 600.9 356.1 594.4 357.6 590.4 359.1 587.4 360.6 584.9 362.1 582.8 363.6 581.1 364.6 580.4 365.1 580.1 366.1 579.9 366.6 579.9 367.6 580.3 371.1 582.7 373.6 583.9 375.1 584.4 376.1 584.5 377.1 584.5 377.6 584.4 378.6 583.8 379.6 582.9 383.1 578.8 387.1 574.8 388.6 573.7 389.6 573.3 390.1 573.2 390.6 573.2 391.6 573.5 393.1 574.5 394.6 576 396.6 578.5 400.1 583.1 402.1 586 408.1 595.8 413.1 603.5 415.1 606.3 417.6 609.1 420.1 611.5 422.1 612.8 424.1 613.8 426.1 614.7 428.1 615.5 430.6 616.3 434.6 617.2 442.1 618.4 448.6 619.1 454.1 619.5 481.1 619.5 498.6 620 550.6 620" class="rl"/>
<text x="333.3" y="620.0" class="yt">0</text>
<text x="333.3" y="603.7" class="yt">1</text>
<text x="333.3" y="587.4" class="yt">10</text>
<text x="333.3" y="571.1" class="yt">2</text>
<text x="333.3" y="554.8" class="yt">3</text>
<text x="333.3" y="538.5" class="yt">4</text>
<text x="333.3" y="522.2" class="yt">5</text>
<text x="333.3" y="505.9" class="yt">6</text>
<text x="333.3" y="489.6" class="yt">7</text>
<text x="333.3" y="473.3" class="yt">8</text>
<text x="333.3" y="457.0" class="yt">9</text>
<text x="364.4" y="638.0" class="xt">0.0</text>
<text x="415.6" y="638.0" class="xt">2.5</text>
<text x="466.9" y="638.0" class="xt">5.0</text>
<text x="518.1" y="638.0" class="xt">7.5</text>
<text x="340.0" y="383.6" class="pt">CCHa2</text>
<text x="550.7" y="657.8" class="xl">Expression Level</text>
<text transform="translate(314.7 415.5) rotate(-90)" class="yl">Identity</text>
<line x1="634.5" y1="392.0" x2="634.5" y2="624.0" class="gl"/>
<line x1="679.4" y1="392.0" x2="679.4" y2="624.0" class="gl"/>
<line x1="724.3" y1="392.0" x2="724.3" y2="624.0" class="gl"/>
<line x1="769.2" y1="392.0" x2="769.2" y2="624.0" class="gl"/>
<line x1="814.1" y1="392.0" x2="814.1" y2="624.0" class="gl"/>
<path d="M611.6 454 613.1 453.8 614.6 453.3 616.1 452.4 617.1 451.6 618.1 450.5 619.1 449 620.1 447.1 621.1 444.7 622.6 440.2 623.6 436.4 624.6 432.1 626.1 424.9 629.6 406.7 631.1 400.2 632.1 396.8 633.1 394.5 633.6 393.8 634.1 393.4 634.6 393.3 635.1 393.5 635.6 394.1 636.1 394.9 637.1 397.4 638.1 400.9 639.6 407.7 644.1 430.7 645.6 437.2 647.1 442.5 648.6 446.5 649.6 448.5 650.6 450.1 651.6 451.3 652.6 452.2 653.6 452.8 654.6 453.3 655.6 453.6 657.1 453.7 658.6 453.7 659.6 453.5 661.1 453 662.1 452.5 663.1 451.8 664.1 450.9 665.6 449.2 667.6 446.3 669.1 443.5 672.1 437.7 673.6 435.2 674.6 433.8 675.6 432.9 676.6 432.4 677.1 432.3 677.6 432.3 678.6 432.8 679.6 433.7 680.6 435 682.1 437.5 686.6 446.1 688.1 448.4 689.6 450.3 691.1 451.7 692.6 452.7 694.6 453.5 696.6 454 698.6 454.2 701.1 454.3 711.6 454.3 716.6 454.1 720.1 453.6 723.1 452.8 725.6 451.7 727.6 450.6 732.1 447.7 734.1 446.6 736.1 445.9 737.6 445.7 738.6 445.7 739.6 445.9 741.6 446.7 743.6 447.8 748.6 451 751.6 452.5 753.1 453 754.6 453.4 758.1 454 761.6 454.2 766.6 454.3 822 454.3 L822 454.3 L611.6 454.3 Z" fill="#FF63B6"/>
<path d="M611.6 454 613.1 453.8 614.6 453.3 616.1 452.4 617.1 451.6 618.1 450.5 619.1 449 620.1 447.1 621.1 444.7 622.6 440.2 623.6 436.4 624.6 432.1 626.1 424.9 629.6 406.7 631.1 400.2 632.1 396.8 633.1 394.5 633.6 393.8 634.1 393.4 634.6 393.3 635.1 393.5 635.6 394.1 636.1 394.9 637.1 397.4 638.1 400.9 639.6 407.7 644.1 430.7 645.6 437.2 647.1 442.5 648.6 446.5 649.6 448.5 650.6 450.1 651.6 451.3 652.6 452.2 653.6 452.8 654.6 453.3 655.6 453.6 657.1 453.7 658.6 453.7 659.6 453.5 661.1 453 662.1 452.5 663.1 451.8 664.1 450.9 665.6 449.2 667.6 446.3 669.1 443.5 672.1 437.7 673.6 435.2 674.6 433.8 675.6 432.9 676.6 432.4 677.1 432.3 677.6 432.3 678.6 432.8 679.6 433.7 680.6 435 682.1 437.5 686.6 446.1 688.1 448.4 689.6 450.3 691.1 451.7 692.6 452.7 694.6 453.5 696.6 454 698.6 454.2 701.1 454.3 711.6 454.3 716.6 454.1 720.1 453.6 723.1 452.8 725.6 451.7 727.6 450.6 732.1 447.7 734.1 446.6 736.1 445.9 737.6 445.7 738.6 445.7 739.6 445.9 741.6 446.7 743.6 447.8 748.6 451 751.6 452.5 753.1 453 754.6 453.4 758.1 454 761.6 454.2 766.6 454.3 822 454.3" class="rl"/>
<path d="M611.6 470.8 614.6 470.5 617.1 470.1 619.1 469.4 621.1 468.4 622.6 467.3 624.6 465.4 629.1 460.3 630.6 458.7 632.1 457.6 633.6 456.9 634.1 456.8 635.1 456.8 636.1 457 637.1 457.5 638.6 458.5 642.1 461.4 643.1 462 644.1 462.5 645.1 462.7 646.1 462.7 647.1 462.3 648.1 461.5 649.1 460.3 649.6 459.6 650.6 457.9 651.6 455.8 653.1 451.9 655.1 445.8 660.1 428.6 661.1 425.6 662.1 423 663.1 420.8 664.1 419.2 665.1 418.2 665.6 417.9 666.1 417.9 666.6 417.9 667.1 418.1 668.1 419.1 669.1 420.6 670.6 424 672.6 429.9 677.1 445.6 678.6 450.6 680.6 456.3 682.6 460.9 683.6 462.8 684.6 464.4 685.6 465.8 686.6 466.9 687.6 467.8 688.6 468.5 689.6 469.1 691.1 469.7 692.6 470.2 694.1 470.4 698.1 470.8 706.6 470.8 714.1 470.6 718.1 470.2 721.6 469.7 724.6 469.1 731.1 467.6 733.6 467.2 736.1 466.9 738.1 466.9 740.6 467 743.1 467.4 751.6 469.3 755.1 469.9 758.6 470.4 762.6 470.7 773.1 470.8 822 470.9 L822 470.9 L611.6 470.9 Z" fill="#EF67EB"/>
<path d="M611.6 470.8 614.6 470.5 617.1 470.1 619.1 469.4 621.1 468.4 622.6 467.3 624.6 465.4 629.1 460.3 630.6 458.7 632.1 457.6 633.6 456.9 634.1 456.8 635.1 456.8 636.1 457 637.1 457.5 638.6 458.5 642.1 461.4 643.1 462 644.1 462.5 645.1 462.7 646.1 462.7 647.1 462.3 648.1 461.5 649.1 460.3 649.6 459.6 650.6 457.9 651.6 455.8 653.1 451.9 655.1 445.8 660.1 428.6 661.1 425.6 662.1 423 663.1 420.8 664.1 419.2 665.1 418.2 665.6 417.9 666.1 417.9 666.6 417.9 667.1 418.1 668.1 419.1 669.1 420.6 670.6 424 672.6 429.9 677.1 445.6 678.6 450.6 680.6 456.3 682.6 460.9 683.6 462.8 684.6 464.4 685.6 465.8 686.6 466.9 687.6 467.8 688.6 468.5 689.6 469.1 691.1 469.7 692.6 470.2 694.1 470.4 698.1 470.8 706.6 470.8 714.1 470.6 718.1 470.2 721.6 469.7 724.6 469.1 731.1 467.6 733.6 467.2 736.1 466.9 738.1 466.9 740.6 467 743.1 467.4 751.6 469.3 755.1 469.9 758.6 470.4 762.6 470.7 773.1 470.8 822 470.9" class="rl"/>
<path d="M611.6 487.4 712.6 487.4 725.6 487.3 732.6 486.9 739.1 486.1 748.1 484.4 751.1 483.7 753.1 483 754.6 482.3 756.1 481.4 757.6 480.2 758.6 479.2 760.1 477.3 761.1 475.8 762.1 474 763.1 471.9 765.1 466.9 767.1 460.8 769.1 453.9 773.6 437 775.1 431.9 776.1 429 777.6 425.3 778.6 423.5 779.6 422.3 780.1 421.9 780.6 421.7 781.1 421.7 781.6 421.8 782.1 422 782.6 422.4 783.6 423.7 784.6 425.6 786.1 429.3 787.1 432.4 788.6 437.6 793.6 456.9 796.1 465.6 797.6 470.1 799.1 474 800.6 477.2 802.1 479.8 803.6 481.9 805.1 483.5 806.1 484.3 807.1 485 809.1 486 811.6 486.7 814.1 487.1 817.1 487.3 822 487.4 L822 487.4 L611.6 487.4 Z" fill="#B385FF"/>
<path d="M611.6 487.4 712.6 487.4 725.6 487.3 732.6 486.9 739.1 486.1 748.1 484.4 751.1 483.7 753.1 483 754.6 482.3 756.1 481.4 757.6 480.2 758.6 479.2 760.1 477.3 761.1 475.8 762.1 474 763.1 471.9 765.1 466.9 767.1 460.8 769.1 453.9 773.6 437 775.1 431.9 776.1 429 777.6 425.3 778.6 423.5 779.6 422.3 780.1 421.9 780.6 421.7 781.1 421.7 781.6 421.8 782.1 422 782.6 422.4 783.6 423.7 784.6 425.6 786.1 429.3 787.1 432.4 788.6 437.6 793.6 456.9 796.1 465.6 797.6 470.1 799.1 474 800.6 477.2 802.1 479.8 803.6 481.9 805.1 483.5 806.1 484.3 807.1 485 809.1 486 811.6 486.7 814.1 487.1 817.1 487.3 822 487.4" class="rl"/>
<path d="M611.6 503.9 613.6 503.7 615.6 502.9 618.1 501.4 619.1 500.6 620.1 499.5 621.1 498.2 622.6 495.6 626.1 488.9 631.1 479.8 632.6 477.5 633.6 476.6 634.1 476.4 634.6 476.3 635.1 476.3 636.1 476.9 637.6 478.4 640.6 482.2 644.1 485.9 645.6 487 646.6 487.3 647.1 487.3 648.1 486.9 648.6 486.6 649.6 485.6 654.1 479.7 660.1 473.2 661.6 471.9 662.6 471.2 663.6 470.8 664.6 470.7 665.6 470.7 666.6 471 668.6 472 671.1 473.8 675.1 477.2 676.6 478.7 677.6 479.9 682.6 486.8 684.6 489.3 687.1 491.8 691.6 495.5 694.6 497.7 697.1 499 699.6 499.9 703.1 500.7 707.6 501.5 711.6 501.9 722.1 501.9 727.6 501.8 730.1 501.5 732.6 501.1 735.1 500.5 741.1 498.6 743.1 498.2 744.6 498.1 746.1 498.3 748.1 498.8 754.6 501.1 758.1 502 762.6 502.7 773.1 503.9 776.1 503.9 822 504 L822 504 L611.6 504 Z" fill="#00A6FF"/>
<path d="M611.6 503.9 613.6 503.7 615.6 502.9 618.1 501.4 619.1 500.6 620.1 499.5 621.1 498.2 622.6 495.6 626.1 488.9 631.1 479.8 632.6 477.5 633.6 476.6 634.1 476.4 634.6 476.3 635.1 476.3 636.1 476.9 637.6 478.4 640.6 482.2 644.1 485.9 645.6 487 646.6 487.3 647.1 487.3 648.1 486.9 648.6 486.6 649.6 485.6 654.1 479.7 660.1 473.2 661.6 471.9 662.6 471.2 663.6 470.8 664.6 470.7 665.6 470.7 666.6 471 668.6 472 671.1 473.8 675.1 477.2 676.6 478.7 677.6 479.9 682.6 486.8 684.6 489.3 687.1 491.8 691.6 495.5 694.6 497.7 697.1 499 699.6 499.9 703.1 500.7 707.6 501.5 711.6 501.9 722.1 501.9 727.6 501.8 730.1 501.5 732.6 501.1 735.1 500.5 741.1 498.6 743.1 498.2 744.6 498.1 746.1 498.3 748.1 498.8 754.6 501.1 758.1 502 762.6 502.7 773.1 503.9 776.1 503.9 822 504" class="rl"/>
<path d="M611.6 520.5 613.6 520.2 614.6 519.9 616.1 519.2 618.6 517.6 619.6 516.7 620.6 515.6 622.1 513.4 623.6 510.9 628.6 501.9 631.6 496.2 632.6 494.6 633.6 493.6 634.1 493.3 634.6 493.3 635.1 493.3 636.1 493.9 637.6 495.5 640.6 499.7 645.6 506 646.6 506.9 647.6 507.5 648.1 507.6 649.1 507.6 649.6 507.5 650.6 507 652.1 505.7 662.6 494.5 665.1 492.2 668.6 489.7 671.1 488.2 673.1 487.4 674.6 487.2 675.6 487.2 676.6 487.5 677.6 487.9 678.6 488.4 680.1 489.4 681.6 490.6 685.1 493.7 687.6 496.5 692.6 503.3 694.6 505.9 699.6 511.9 702.1 514.5 703.6 515.6 706.1 517.1 708.6 518.2 710.6 518.8 712.6 519 716.1 519.2 743.6 519.9 758.6 520.5 822 520.5 L822 520.5 L611.6 520.5 Z" fill="#00BADE"/>
<path d="M611.6 520.5 613.6 520.2 614.6 519.9 616.1 519.2 618.6 517.6 619.6 516.7 620.6 515.6 622.1 513.4 623.6 510.9 628.6 501.9 631.6 496.2 632.6 494.6 633.6 493.6 634.1 493.3 634.6 493.3 635.1 493.3 636.1 493.9 637.6 495.5 640.6 499.7 645.6 506 646.6 506.9 647.6 507.5 648.1 507.6 649.1 507.6 649.6 507.5 650.6 507 652.1 505.7 662.6 494.5 665.1 492.2 668.6 489.7 671.1 488.2 673.1 487.4 674.6 487.2 675.6 487.2 676.6 487.5 677.6 487.9 678.6 488.4 680.1 489.4 681.6 490.6 685.1 493.7 687.6 496.5 692.6 503.3 694.6 505.9 699.6 511.9 702.1 514.5 703.6 515.6 706.1 517.1 708.6 518.2 710.6 518.8 712.6 519 716.1 519.2 743.6 519.9 758.6 520.5 822 520.5" class="rl"/>
<path d="M611.6 537 668.1 537 685.6 536.5 696.6 536 707.1 535.1 712.1 534.5 716.6 533.9 721.1 533 726.1 532 734.1 530.1 736.6 529.3 738.1 528.7 739.1 528.1 740.6 526.9 741.6 526 743.1 524.2 744.1 522.8 746.1 519.4 748.1 514.9 750.1 509.6 752.1 503.5 756.1 490.6 757.6 486.2 758.6 483.7 760.1 480.6 761.1 479.1 762.1 478.1 762.6 477.8 763.1 477.7 763.6 477.7 764.1 477.8 764.6 478.1 765.6 479.1 766.6 480.6 768.1 483.8 770.1 489.3 776.1 509.5 777.6 514.2 779.1 518.3 780.6 522 782.6 525.9 784.1 528.2 785.1 529.5 786.1 530.6 788.1 532.4 789.1 533 790.6 533.8 793.1 534.7 796.1 535.4 800.6 536 806.1 536.5 813.1 536.8 822 537 L822 537.1 L611.6 537.1 Z" fill="#00C1A7"/>
<path d="M611.6 537 668.1 537 685.6 536.5 696.6 536 707.1 535.1 712.1 534.5 716.6 533.9 721.1 533 726.1 532 734.1 530.1 736.6 529.3 738.1 528.7 739.1 528.1 740.6 526.9 741.6 526 743.1 524.2 744.1 522.8 746.1 519.4 748.1 514.9 750.1 509.6 752.1 503.5 756.1 490.6 757.6 486.2 758.6 483.7 760.1 480.6 761.1 479.1 762.1 478.1 762.6 477.8 763.1 477.7 763.6 477.7 764.1 477.8 764.6 478.1 765.6 479.1 766.6 480.6 768.1 483.8 770.1 489.3 776.1 509.5 777.6 514.2 779.1 518.3 780.6 522 782.6 525.9 784.1 528.2 785.1 529.5 786.1 530.6 788.1 532.4 789.1 533 790.6 533.8 793.1 534.7 796.1 535.4 800.6 536 806.1 536.5 813.1 536.8 822 537" class="rl"/>
<path d="M611.6 553.6 674.1 553.6 703.6 552.6 713.6 552.1 722.1 551.4 730.6 550.3 733.1 549.8 735.1 549.2 736.6 548.7 738.1 548 739.6 547.1 741.1 546 742.6 544.7 743.6 543.7 745.1 541.9 746.1 540.5 747.1 539 748.6 536.5 751.1 531.5 753.1 527 758.6 513.9 760.1 510.6 761.6 507.7 763.1 505.4 764.6 503.6 765.6 502.8 766.1 502.5 767.1 502.2 767.6 502.2 768.6 502.4 769.1 502.6 770.1 503.4 771.6 505 773.1 507.3 774.6 510.2 776.1 513.5 782.6 529.3 785.6 535.8 787.6 539.5 789.1 541.9 791.1 544.6 793.1 546.7 795.1 548.3 797.6 549.9 800.1 550.9 803.1 551.8 806.6 552.4 810.6 552.8 815.6 553.1 822 553.4 L822 553.6 L611.6 553.6 Z" fill="#00BD5C"/>
<path d="M611.6 553.6 674.1 553.6 703.6 552.6 713.6 552.1 722.1 551.4 730.6 550.3 733.1 549.8 735.1 549.2 736.6 548.7 738.1 548 739.6 547.1 741.1 546 742.6 544.7 743.6 543.7 745.1 541.9 746.1 540.5 747.1 539 748.6 536.5 751.1 531.5 753.1 527 758.6 513.9 760.1 510.6 761.6 507.7 763.1 505.4 764.6 503.6 765.6 502.8 766.1 502.5 767.1 502.2 767.6 502.2 768.6 502.4 769.1 502.6 770.1 503.4 771.6 505 773.1 507.3 774.6 510.2 776.1 513.5 782.6 529.3 785.6 535.8 787.6 539.5 789.1 541.9 791.1 544.6 793.1 546.7 795.1 548.3 797.6 549.9 800.1 550.9 803.1 551.8 806.6 552.4 810.6 552.8 815.6 553.1 822 553.4" class="rl"/>
<path d="M611.6 570.1 613.6 569.9 614.6 569.5 616.1 568.8 617.6 567.9 618.6 567.2 620.1 565.7 621.1 564.2 622.6 561.6 626.1 554.4 631.6 543.5 632.6 541.9 633.6 540.9 634.1 540.6 634.6 540.5 635.1 540.5 635.6 540.7 636.6 541.5 638.1 543.1 645.1 552.2 646.1 553.2 646.6 553.5 647.1 553.7 647.6 553.9 648.1 553.8 649.1 553.4 649.6 553 650.6 551.9 655.1 545.1 660.1 538.8 661.6 537 663.1 535.5 664.1 534.8 665.1 534.3 666.1 534.1 667.1 534.3 668.1 534.9 669.1 535.7 670.1 536.8 676.1 544.8 681.1 552.5 682.6 554.5 684.6 556.9 687.6 559.8 691.1 562.7 693.1 564 694.6 564.9 696.6 565.8 698.6 566.6 700.6 567.2 703.1 567.9 706.6 568.6 710.6 569.2 716.6 569.7 721.1 570 724.6 569.9 728.1 569.7 731.6 569.2 739.6 568 742.1 567.8 744.1 567.8 746.1 567.8 748.6 568 756.6 569.2 759.6 569.6 766.1 570 775.6 570.1 822 570.2 L822 570.2 L611.6 570.2 Z" fill="#64B200"/>
<path d="M611.6 570.1 613.6 569.9 614.6 569.5 616.1 568.8 617.6 567.9 618.6 567.2 620.1 565.7 621.1 564.2 622.6 561.6 626.1 554.4 631.6 543.5 632.6 541.9 633.6 540.9 634.1 540.6 634.6 540.5 635.1 540.5 635.6 540.7 636.6 541.5 638.1 543.1 645.1 552.2 646.1 553.2 646.6 553.5 647.1 553.7 647.6 553.9 648.1 553.8 649.1 553.4 649.6 553 650.6 551.9 655.1 545.1 660.1 538.8 661.6 537 663.1 535.5 664.1 534.8 665.1 534.3 666.1 534.1 667.1 534.3 668.1 534.9 669.1 535.7 670.1 536.8 676.1 544.8 681.1 552.5 682.6 554.5 684.6 556.9 687.6 559.8 691.1 562.7 693.1 564 694.6 564.9 696.6 565.8 698.6 566.6 700.6 567.2 703.1 567.9 706.6 568.6 710.6 569.2 716.6 569.7 721.1 570 724.6 569.9 728.1 569.7 731.6 569.2 739.6 568 742.1 567.8 744.1 567.8 746.1 567.8 748.6 568 756.6 569.2 759.6 569.6 766.1 570 775.6 570.1 822 570.2" class="rl"/>
<path d="M611.6 586.7 613.6 586.4 614.6 586.1 616.1 585.4 617.6 584.5 618.6 583.7 620.1 582.1 621.1 580.6 622.1 578.7 626.6 568.9 631.1 560.5 633.1 557.3 634.1 556 634.6 555.6 635.6 555 636.1 555 637.1 555.2 638.1 555.7 641.1 558.1 643.6 559.8 644.6 560.3 645.1 560.4 646.1 560.5 646.6 560.3 647.6 559.8 648.6 559 651.1 556.8 653.1 555.4 655.6 554.1 657.1 553.4 658.6 552.9 659.6 552.8 660.6 552.9 661.1 553 662.1 553.5 663.1 554.2 664.6 555.7 669.6 561.4 674.6 568.4 676.6 571 680.6 575.3 684.1 578.6 685.6 579.9 687.1 580.9 690.1 582.6 692.6 583.7 694.6 584.6 696.6 585.2 698.1 585.6 702.6 586.3 707.1 586.6 711.6 586.5 715.6 586.1 718.1 585.5 720.6 584.6 723.1 583.4 727.6 580.9 729.6 580 731.6 579.4 733.1 579.3 735.1 579.5 737.1 580.2 739.1 581.2 744.1 583.9 747.1 585.2 750.1 586 753.6 586.5 757.1 586.6 762.1 586.7 822 586.7 L822 586.7 L611.6 586.7 Z" fill="#AEA200"/>
<path d="M611.6 586.7 613.6 586.4 614.6 586.1 616.1 585.4 617.6 584.5 618.6 583.7 620.1 582.1 621.1 580.6 622.1 578.7 626.6 568.9 631.1 560.5 633.1 557.3 634.1 556 634.6 555.6 635.6 555 636.1 555 637.1 555.2 638.1 555.7 641.1 558.1 643.6 559.8 644.6 560.3 645.1 560.4 646.1 560.5 646.6 560.3 647.6 559.8 648.6 559 651.1 556.8 653.1 555.4 655.6 554.1 657.1 553.4 658.6 552.9 659.6 552.8 660.6 552.9 661.1 553 662.1 553.5 663.1 554.2 664.6 555.7 669.6 561.4 674.6 568.4 676.6 571 680.6 575.3 684.1 578.6 685.6 579.9 687.1 580.9 690.1 582.6 692.6 583.7 694.6 584.6 696.6 585.2 698.1 585.6 702.6 586.3 707.1 586.6 711.6 586.5 715.6 586.1 718.1 585.5 720.6 584.6 723.1 583.4 727.6 580.9 729.6 580 731.6 579.4 733.1 579.3 735.1 579.5 737.1 580.2 739.1 581.2 744.1 583.9 747.1 585.2 750.1 586 753.6 586.5 757.1 586.6 762.1 586.7 822 586.7" class="rl"/>
<path d="M611.6 603.2 682.6 603.2 698.6 603.1 709.1 602.4 713.6 602 717.6 601.4 722.6 600.6 727.1 599.7 731.6 598.6 734.1 597.8 735.6 597.2 737.1 596.4 738.6 595.3 739.6 594.4 741.1 592.8 742.1 591.6 743.6 589.3 744.6 587.6 746.6 583.5 748.6 578.5 750.6 572.7 755.6 557.3 757.1 553.1 758.1 550.6 759.6 547.5 760.6 545.9 761.1 545.3 762.1 544.4 762.6 544.1 763.1 543.9 763.6 543.9 764.6 544.2 765.6 545.1 766.6 546.4 768.1 549.1 769.1 551.4 770.6 555.5 777.1 575.9 778.6 580.2 780.1 584.1 781.6 587.6 783.6 591.4 785.6 594.4 787.6 596.7 789.6 598.4 790.6 599 792.1 599.8 794.6 600.8 798.1 601.6 802.1 602.2 807.6 602.7 814.1 603 822 603.2 L822 603.3 L611.6 603.3 Z" fill="#DB8E00"/>
<path d="M611.6 603.2 682.6 603.2 698.6 603.1 709.1 602.4 713.6 602 717.6 601.4 722.6 600.6 727.1 599.7 731.6 598.6 734.1 597.8 735.6 597.2 737.1 596.4 738.6 595.3 739.6 594.4 741.1 592.8 742.1 591.6 743.6 589.3 744.6 587.6 746.6 583.5 748.6 578.5 750.6 572.7 755.6 557.3 757.1 553.1 758.1 550.6 759.6 547.5 760.6 545.9 761.1 545.3 762.1 544.4 762.6 544.1 763.1 543.9 763.6 543.9 764.6 544.2 765.6 545.1 766.6 546.4 768.1 549.1 769.1 551.4 770.6 555.5 777.1 575.9 778.6 580.2 780.1 584.1 781.6 587.6 783.6 591.4 785.6 594.4 787.6 596.7 789.6 598.4 790.6 599 792.1 599.8 794.6 600.8 798.1 601.6 802.1 602.2 807.6 602.7 814.1 603 822 603.2" class="rl"/>
<path d="M611.6 619.8 613.6 619.6 616.1 618.9 618.6 617.8 619.6 617.3 620.6 616.5 622.1 615.2 624.1 613 628.1 608.4 632.1 603.3 633.1 602.4 633.6 602.1 634.6 601.8 635.1 601.8 636.1 602 637.6 602.6 642.1 604.8 643.6 605.3 644.6 605.4 645.1 605.3 646.1 604.7 647.1 603.6 648.1 602.2 651.6 596.2 657.1 587.4 658.6 585.1 659.6 583.8 660.6 582.7 661.6 581.7 663.1 580.6 664.6 579.6 666.6 578.6 667.6 578.4 668.6 578.3 669.6 578.5 670.6 578.8 672.6 580 674.1 581.1 676.1 582.9 677.6 584.3 678.6 585.4 680.6 588.1 685.1 595.2 691.6 604.9 694.1 608.3 696.1 610.6 697.6 612 699.1 613.2 701.1 614.6 702.6 615.6 705.1 616.8 708.1 617.8 711.6 618.6 715.1 619 735.6 619.3 747.1 619.8 822 619.8 L822 619.8 L611.6 619.8 Z" fill="#F8766D"/>
<path d="M611.6 619.8 613.6 619.6 616.1 618.9 618.6 617.8 619.6 617.3 620.6 616.5 622.1 615.2 624.1 613 628.1 608.4 632.1 603.3 633.1 602.4 633.6 602.1 634.6 601.8 635.1 601.8 636.1 602 637.6 602.6 642.1 604.8 643.6 605.3 644.6 605.4 645.1 605.3 646.1 604.7 647.1 603.6 648.1 602.2 651.6 596.2 657.1 587.4 658.6 585.1 659.6 583.8 660.6 582.7 661.6 581.7 663.1 580.6 664.6 579.6 666.6 578.6 667.6 578.4 668.6 578.3 669.6 578.5 670.6 578.8 672.6 580 674.1 581.1 676.1 582.9 677.6 584.3 678.6 585.4 680.6 588.1 685.1 595.2 691.6 604.9 694.1 608.3 696.1 610.6 697.6 612 699.1 613.2 701.1 614.6 702.6 615.6 705.1 616.8 708.1 617.8 711.6 618.6 715.1 619 735.6 619.3 747.1 619.8 822 619.8" class="rl"/>
<text x="605.3" y="619.8" class="yt">0</text>
<text x="605.3" y="603.3" class="yt">1</text>
<text x="605.3" y="586.7" class="yt">10</text>
<text x="605.3" y="570.2" class="yt">2</text>
<text x="605.3" y="553.6" class="yt">3</text>
<text x="605.3" y="537.1" class="yt">4</text>
<text x="605.3" y="520.5" class="yt">5</text>
<text x="605.3" y="504.0" class="yt">6</text>
<text x="605.3" y="487.4" class="yt">7</text>
<text x="605.3" y="470.9" class="yt">8</text>
<text x="605.3" y="454.3" class="yt">9</text>
<text x="634.5" y="638.0" class="xt">0</text>
<text x="679.4" y="638.0" class="xt">2</text>
<text x="724.3" y="638.0" class="xt">4</text>
<text x="769.2" y="638.0" class="xt">6</text>
<text x="814.1" y="638.0" class="xt">8</text>
<text x="611.5" y="383.6" class="pt">Tk</text>
<text x="822.1" y="657.8" class="xl">Expression Level</text>
<text transform="translate(586.7 415.5) rotate(-90)" class="yl">Identity</text>
</svg>

<!-- download button -->
<div class="abs" style="left:706px;top:675px;width:136px;height:40.6px;box-sizing:border-box;border:1px solid #cfd6dc;border-radius:5px;background:#fff;"></div>
<svg style="left:719.3px;top:684.3px;" width="19.6" height="19.6" viewBox="0 0 512 512"><path fill="#2e86e8" d="M288 32c0-17.700-14.300-32-32-32s-32 14.300-32 32V274.700l-73.400-73.400c-12.500-12.500-32.800-12.500-45.300 0s-12.500 32.800 0 45.300l128 128c12.500 12.500 32.800 12.500 45.300 0l128-128c12.500-12.500 12.500-32.800 0-45.300s-32.800-12.500-45.300 0L288 274.700V32zM64 352c-35.300 0-64 28.700-64 64v32c0 35.300 28.700 64 64 64H448c35.300 0 64-28.700 64-64V416c0-35.300-28.700-64-64-64H346.500l-45.300 45.300c-25 25-65.500 25-90.500 0L165.500 352H64zm368 56a24 24 0 1 1 0 48 24 24 0 1 1 0-48z"/></svg>
<div class="abs" style="left:744.3px;top:684.9px;font-size:18.5px;letter-spacing:0.25px;line-height:22px;color:#4a88cc;white-space:nowrap;">Download</div>

<!-- right box -->
<div class="box" style="left:883px;top:5px;width:262px;height:741px;"></div>
<div class="hdr" style="left:883px;top:5px;width:262px;height:40.5px;"></div>
<div class="htitle" style="left:893.5px;top:15.5px;">Settings</div>

<div class="lbl" style="left:894px;top:59px;">Gene Symbols:</div>
<div class="inp" style="left:894px;top:81px;width:240px;height:33.6px;"></div>
<div class="inptxt" style="left:907px;top:90.5px;">asta npf esg astc ccha2 tk</div>
<div class="help" style="left:894px;top:131.5px;">Multiple genes are separted by a space, such<br>as: CD4 CD8A; Also supports: percent.mito<br>nCount_RNA nFeature_RNA.<br>Tips: You can paste multiple genes from a<br>column in excel.</div>

<div class="lbl" style="left:894px;top:229px;font-size:12.7px;">Cluster Resolution:</div>
<div class="inp" style="left:894px;top:251px;width:240px;height:33.6px;border-color:#ccc;border-radius:4px;"></div>
<div class="inptxt" style="left:907px;top:260.5px;color:#333;font-size:12.4px;">res.0.4</div>
<div class="abs" style="left:1106px;top:265px;width:0;height:0;border-left:4.8px solid transparent;border-right:4.8px solid transparent;border-top:5px solid #111;"></div>

<div class="lbl" style="left:894px;top:302.8px;font-size:12.7px;">Number of columns:</div>
<div class="irs-min" style="left:894.5px;top:325.6px;width:10.2px">1</div>
<div class="irs-max" style="left:1117.6px;top:325.6px;width:16.0px">10</div>
<div class="irs-single" style="left:947.2px;top:325.2px;width:12.0px">3</div>
<div class="irs-line" style="top:350.1px"></div>
<div class="irs-bar" style="top:350.1px;width:59.2px"></div>
<i class="tk" style="left:904.1px;top:357.7px"></i>
<i class="tks" style="left:912.2px;top:357.7px"></i>
<i class="tks" style="left:920.3px;top:357.7px"></i>
<i class="tk" style="left:928.4px;top:357.7px"></i>
<i class="tks" style="left:936.5px;top:357.7px"></i>
<i class="tks" style="left:944.6px;top:357.7px"></i>
<i class="tk" style="left:952.7px;top:357.7px"></i>
<i class="tks" style="left:960.9px;top:357.7px"></i>
<i class="tks" style="left:969.0px;top:357.7px"></i>
<i class="tk" style="left:977.1px;top:357.7px"></i>
<i class="tks" style="left:985.2px;top:357.7px"></i>
<i class="tks" style="left:993.3px;top:357.7px"></i>
<i class="tk" style="left:1001.4px;top:357.7px"></i>
<i class="tks" style="left:1009.5px;top:357.7px"></i>
<i class="tks" style="left:1017.6px;top:357.7px"></i>
<i class="tk" style="left:1025.7px;top:357.7px"></i>
<i class="tks" style="left:1033.8px;top:357.7px"></i>
<i class="tks" style="left:1041.9px;top:357.7px"></i>
<i class="tk" style="left:1050.0px;top:357.7px"></i>
<i class="tks" style="left:1058.1px;top:357.7px"></i>
<i class="tks" style="left:1066.2px;top:357.7px"></i>
<i class="tk" style="left:1074.4px;top:357.7px"></i>
<i class="tks" style="left:1082.5px;top:357.7px"></i>
<i class="tks" style="left:1090.6px;top:357.7px"></i>
<i class="tk" style="left:1098.7px;top:357.7px"></i>
<i class="tks" style="left:1106.8px;top:357.7px"></i>
<i class="tks" style="left:1114.9px;top:357.7px"></i>
<i class="tk" style="left:1123.0px;top:357.7px"></i>
<span class="gt" style="left:890.0px;top:370.0px">1</span>
<span class="gt" style="left:914.0px;top:370.0px">2</span>
<span class="gt" style="left:938.0px;top:370.0px">3</span>
<span class="gt" style="left:963.0px;top:370.0px">4</span>
<span class="gt" style="left:987.0px;top:370.0px">5</span>
<span class="gt" style="left:1011.0px;top:370.0px">6</span>
<span class="gt" style="left:1036.0px;top:370.0px">7</span>
<span class="gt" style="left:1060.0px;top:370.0px">8</span>
<span class="gt" style="left:1084.0px;top:370.0px">9</span>
<span class="gt" style="left:1109.0px;top:370.0px">10</span>
<div class="irs-handle" style="left:942.2px;top:342.9px"></div>

<div class="abs" style="left:894px;top:404.6px;width:12.6px;height:12.2px;box-sizing:border-box;border:1px solid #6a6a6a;border-radius:2.5px;background:#fff;"></div>
<div class="abs" style="left:914px;top:403px;font-size:13.1px;line-height:16px;color:#333;white-space:nowrap;">Stack Plot</div>

<div class="lbl" style="left:894px;top:437.6px;font-size:12.33px;">x Axis Label Size:</div>
<div class="irs-min" style="left:894.5px;top:460.6px;width:10.2px">0</div>
<div class="irs-max" style="left:1117.6px;top:460.6px;width:16.0px">20</div>
<div class="irs-single" style="left:1048.5px;top:460.2px;width:18.7px">14</div>
<div class="irs-line" style="top:485.1px"></div>
<div class="irs-bar" style="top:485.1px;width:163.8px"></div>
<i class="tk" style="left:904.1px;top:492.7px"></i>
<i class="tks" style="left:911.4px;top:492.7px"></i>
<i class="tks" style="left:918.7px;top:492.7px"></i>
<i class="tk" style="left:926.0px;top:492.7px"></i>
<i class="tks" style="left:933.3px;top:492.7px"></i>
<i class="tks" style="left:940.6px;top:492.7px"></i>
<i class="tk" style="left:947.9px;top:492.7px"></i>
<i class="tks" style="left:955.2px;top:492.7px"></i>
<i class="tks" style="left:962.5px;top:492.7px"></i>
<i class="tk" style="left:969.8px;top:492.7px"></i>
<i class="tks" style="left:977.1px;top:492.7px"></i>
<i class="tks" style="left:984.4px;top:492.7px"></i>
<i class="tk" style="left:991.7px;top:492.7px"></i>
<i class="tks" style="left:999.0px;top:492.7px"></i>
<i class="tks" style="left:1006.3px;top:492.7px"></i>
<i class="tk" style="left:1013.5px;top:492.7px"></i>
<i class="tks" style="left:1020.8px;top:492.7px"></i>
<i class="tks" style="left:1028.1px;top:492.7px"></i>
<i class="tk" style="left:1035.4px;top:492.7px"></i>
<i class="tks" style="left:1042.7px;top:492.7px"></i>
<i class="tks" style="left:1050.0px;top:492.7px"></i>
<i class="tk" style="left:1057.3px;top:492.7px"></i>
<i class="tks" style="left:1064.6px;top:492.7px"></i>
<i class="tks" style="left:1071.9px;top:492.7px"></i>
<i class="tk" style="left:1079.2px;top:492.7px"></i>
<i class="tks" style="left:1086.5px;top:492.7px"></i>
<i class="tks" style="left:1093.8px;top:492.7px"></i>
<i class="tk" style="left:1101.1px;top:492.7px"></i>
<i class="tks" style="left:1108.4px;top:492.7px"></i>
<i class="tks" style="left:1115.7px;top:492.7px"></i>
<i class="tk" style="left:1123.0px;top:492.7px"></i>
<span class="gt" style="left:890.0px;top:505.0px">0</span>
<span class="gt" style="left:911.0px;top:505.0px">2</span>
<span class="gt" style="left:933.0px;top:505.0px">4</span>
<span class="gt" style="left:955.0px;top:505.0px">6</span>
<span class="gt" style="left:977.0px;top:505.0px">8</span>
<span class="gt" style="left:999.0px;top:505.0px">10</span>
<span class="gt" style="left:1021.0px;top:505.0px">12</span>
<span class="gt" style="left:1043.0px;top:505.0px">14</span>
<span class="gt" style="left:1065.0px;top:505.0px">16</span>
<span class="gt" style="left:1087.0px;top:505.0px">18</span>
<span class="gt" style="left:1109.0px;top:505.0px">20</span>
<div class="irs-handle" style="left:1046.8px;top:477.9px"></div>
<div class="lbl" style="left:894px;top:537.5px;font-size:12.2px;">Y Axis Label Size:</div>
<div class="irs-min" style="left:894.5px;top:560.6px;width:10.2px">0</div>
<div class="irs-max" style="left:1117.6px;top:560.6px;width:16.0px">20</div>
<div class="irs-single" style="left:1004.7px;top:560.2px;width:18.7px">10</div>
<div class="irs-line" style="top:585.1px"></div>
<div class="irs-bar" style="top:585.1px;width:120.0px"></div>
<i class="tk" style="left:904.1px;top:592.7px"></i>
<i class="tks" style="left:911.4px;top:592.7px"></i>
<i class="tks" style="left:918.7px;top:592.7px"></i>
<i class="tk" style="left:926.0px;top:592.7px"></i>
<i class="tks" style="left:933.3px;top:592.7px"></i>
<i class="tks" style="left:940.6px;top:592.7px"></i>
<i class="tk" style="left:947.9px;top:592.7px"></i>
<i class="tks" style="left:955.2px;top:592.7px"></i>
<i class="tks" style="left:962.5px;top:592.7px"></i>
<i class="tk" style="left:969.8px;top:592.7px"></i>
<i class="tks" style="left:977.1px;top:592.7px"></i>
<i class="tks" style="left:984.4px;top:592.7px"></i>
<i class="tk" style="left:991.7px;top:592.7px"></i>
<i class="tks" style="left:999.0px;top:592.7px"></i>
<i class="tks" style="left:1006.3px;top:592.7px"></i>
<i class="tk" style="left:1013.5px;top:592.7px"></i>
<i class="tks" style="left:1020.8px;top:592.7px"></i>
<i class="tks" style="left:1028.1px;top:592.7px"></i>
<i class="tk" style="left:1035.4px;top:592.7px"></i>
<i class="tks" style="left:1042.7px;top:592.7px"></i>
<i class="tks" style="left:1050.0px;top:592.7px"></i>
<i class="tk" style="left:1057.3px;top:592.7px"></i>
<i class="tks" style="left:1064.6px;top:592.7px"></i>
<i class="tks" style="left:1071.9px;top:592.7px"></i>
<i class="tk" style="left:1079.2px;top:592.7px"></i>
<i class="tks" style="left:1086.5px;top:592.7px"></i>
<i class="tks" style="left:1093.8px;top:592.7px"></i>
<i class="tk" style="left:1101.1px;top:592.7px"></i>
<i class="tks" style="left:1108.4px;top:592.7px"></i>
<i class="tks" style="left:1115.7px;top:592.7px"></i>
<i class="tk" style="left:1123.0px;top:592.7px"></i>
<span class="gt" style="left:890.0px;top:605.0px">0</span>
<span class="gt" style="left:911.0px;top:605.0px">2</span>
<span class="gt" style="left:933.0px;top:605.0px">4</span>
<span class="gt" style="left:955.0px;top:605.0px">6</span>
<span class="gt" style="left:977.0px;top:605.0px">8</span>
<span class="gt" style="left:999.0px;top:605.0px">10</span>
<span class="gt" style="left:1021.0px;top:605.0px">12</span>
<span class="gt" style="left:1043.0px;top:605.0px">14</span>
<span class="gt" style="left:1065.0px;top:605.0px">16</span>
<span class="gt" style="left:1087.0px;top:605.0px">18</span>
<span class="gt" style="left:1109.0px;top:605.0px">20</span>
<div class="irs-handle" style="left:1003.0px;top:577.9px"></div>
<div class="lbl" style="left:894px;top:637.8px;font-size:13px;">Adjust Height/Width Ratio:</div>
<div class="irs-min" style="left:894.5px;top:660.2px;width:18.3px">0.1</div>
<div class="irs-max" style="left:1122.8px;top:660.2px;width:10.8px">4</div>
<div class="irs-single" style="left:927.3px;top:659.8px;width:27.6px">0.75</div>
<div class="irs-line" style="top:684.7px"></div>
<div class="irs-bar" style="top:684.7px;width:47.1px"></div>
<i class="tk" style="left:904.1px;top:692.3px"></i>
<i class="tks" style="left:911.6px;top:692.3px"></i>
<i class="tks" style="left:919.1px;top:692.3px"></i>
<i class="tk" style="left:926.6px;top:692.3px"></i>
<i class="tks" style="left:934.0px;top:692.3px"></i>
<i class="tks" style="left:941.5px;top:692.3px"></i>
<i class="tk" style="left:949.0px;top:692.3px"></i>
<i class="tks" style="left:956.5px;top:692.3px"></i>
<i class="tks" style="left:964.0px;top:692.3px"></i>
<i class="tk" style="left:971.5px;top:692.3px"></i>
<i class="tks" style="left:978.9px;top:692.3px"></i>
<i class="tks" style="left:986.4px;top:692.3px"></i>
<i class="tk" style="left:993.9px;top:692.3px"></i>
<i class="tks" style="left:1001.4px;top:692.3px"></i>
<i class="tks" style="left:1008.9px;top:692.3px"></i>
<i class="tk" style="left:1016.4px;top:692.3px"></i>
<i class="tks" style="left:1023.8px;top:692.3px"></i>
<i class="tks" style="left:1031.3px;top:692.3px"></i>
<i class="tk" style="left:1038.8px;top:692.3px"></i>
<i class="tks" style="left:1046.3px;top:692.3px"></i>
<i class="tks" style="left:1053.8px;top:692.3px"></i>
<i class="tk" style="left:1061.3px;top:692.3px"></i>
<i class="tks" style="left:1068.7px;top:692.3px"></i>
<i class="tks" style="left:1076.2px;top:692.3px"></i>
<i class="tk" style="left:1083.7px;top:692.3px"></i>
<i class="tks" style="left:1091.2px;top:692.3px"></i>
<i class="tks" style="left:1098.7px;top:692.3px"></i>
<i class="tk" style="left:1106.2px;top:692.3px"></i>
<i class="tks" style="left:1111.8px;top:692.3px"></i>
<i class="tks" style="left:1117.4px;top:692.3px"></i>
<i class="tk" style="left:1123.0px;top:692.3px"></i>
<span class="gt" style="left:890.0px;top:705.0px">0.1</span>
<span class="gt" style="left:912.0px;top:705.0px">0.5</span>
<span class="gt" style="left:935.0px;top:705.0px">0.9</span>
<span class="gt" style="left:957.0px;top:705.0px">1.3</span>
<span class="gt" style="left:979.0px;top:705.0px">1.7</span>
<span class="gt" style="left:1002.0px;top:705.0px">2.1</span>
<span class="gt" style="left:1024.0px;top:705.0px">2.5</span>
<span class="gt" style="left:1047.0px;top:705.0px">2.9</span>
<span class="gt" style="left:1069.0px;top:705.0px">3.3</span>
<span class="gt" style="left:1092.0px;top:705.0px">3.7</span>
<span class="gt" style="left:1109.0px;top:705.0px">4</span>
<div class="irs-handle" style="left:930.1px;top:677.5px"></div>
</body>
</html>
